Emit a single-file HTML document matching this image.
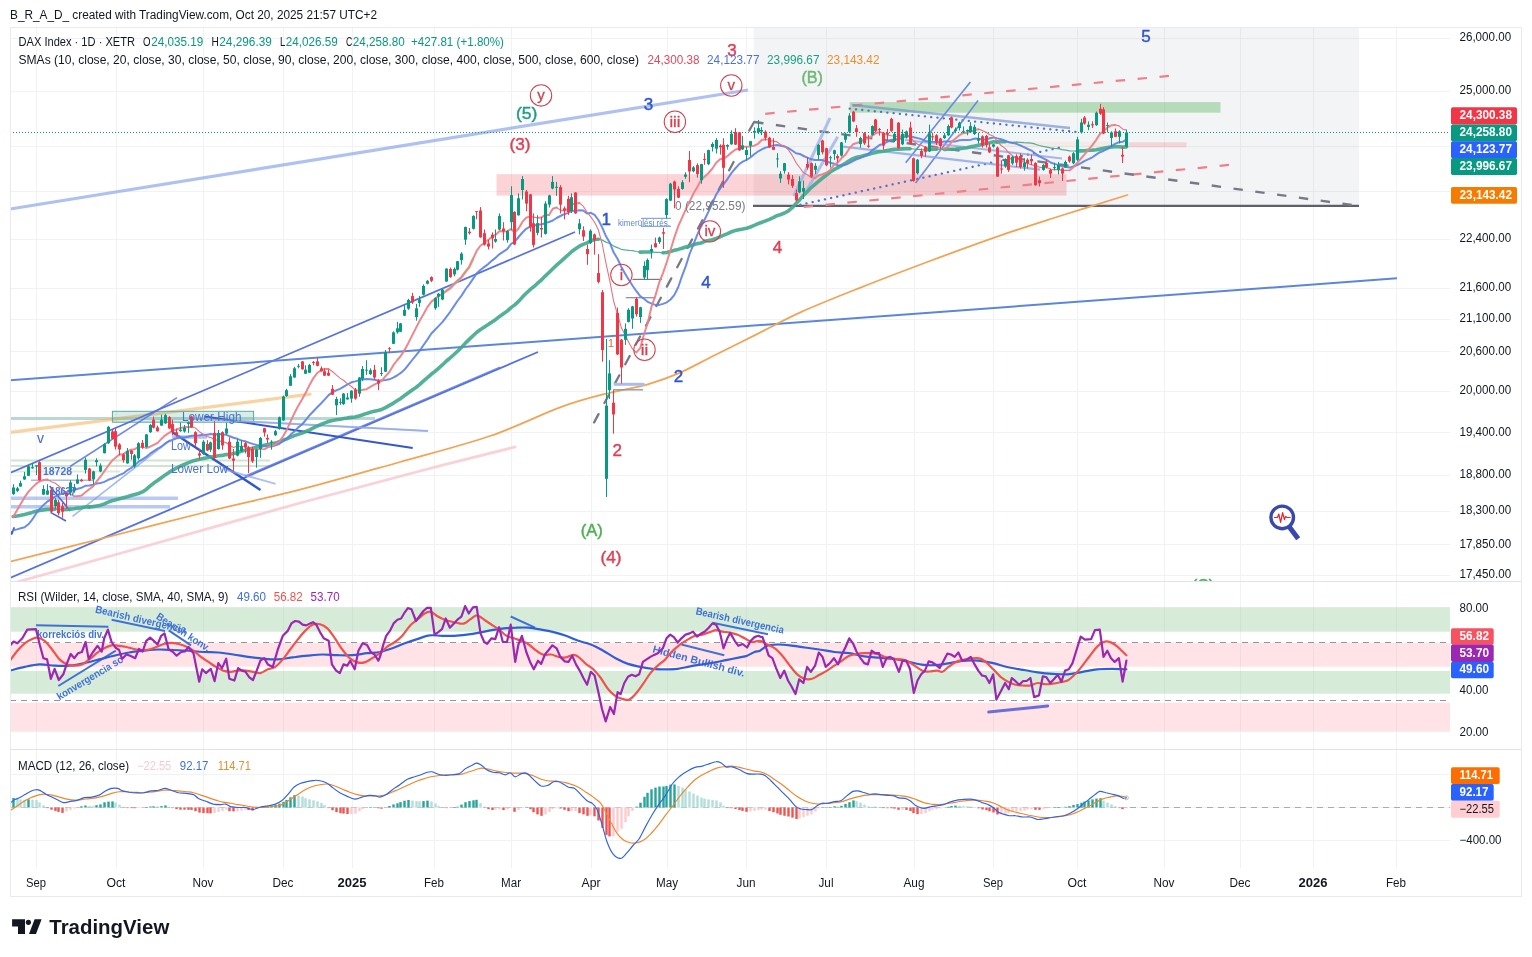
<!DOCTYPE html><html><head><meta charset="utf-8"><title>DAX Index chart</title><style>html,body{margin:0;padding:0;background:#fff;overflow:hidden}svg{display:block;will-change:transform;transform:translateZ(0)}</style></head><body><svg width="1532" height="957" viewBox="0 0 1532 957" font-family='"Liberation Sans", sans-serif' shape-rendering="auto">
<defs><clipPath id="cm"><rect x="10.5" y="27.5" width="1439.5" height="554"/></clipPath><clipPath id="cr"><rect x="10.5" y="582" width="1439.5" height="167"/></clipPath><clipPath id="cd"><rect x="10.5" y="750" width="1439.5" height="118"/></clipPath></defs>
<rect x="0" y="0" width="1532" height="957" fill="#ffffff"/>
<line x1="36.5" y1="27" x2="36.5" y2="868" stroke="#f1f2f5" stroke-width="1"/>
<line x1="116.5" y1="27" x2="116.5" y2="868" stroke="#f1f2f5" stroke-width="1"/>
<line x1="203.5" y1="27" x2="203.5" y2="868" stroke="#f1f2f5" stroke-width="1"/>
<line x1="283.5" y1="27" x2="283.5" y2="868" stroke="#f1f2f5" stroke-width="1"/>
<line x1="352.5" y1="27" x2="352.5" y2="868" stroke="#f1f2f5" stroke-width="1"/>
<line x1="434.5" y1="27" x2="434.5" y2="868" stroke="#f1f2f5" stroke-width="1"/>
<line x1="511.5" y1="27" x2="511.5" y2="868" stroke="#f1f2f5" stroke-width="1"/>
<line x1="591.5" y1="27" x2="591.5" y2="868" stroke="#f1f2f5" stroke-width="1"/>
<line x1="667.5" y1="27" x2="667.5" y2="868" stroke="#f1f2f5" stroke-width="1"/>
<line x1="746.5" y1="27" x2="746.5" y2="868" stroke="#f1f2f5" stroke-width="1"/>
<line x1="826.5" y1="27" x2="826.5" y2="868" stroke="#f1f2f5" stroke-width="1"/>
<line x1="914.5" y1="27" x2="914.5" y2="868" stroke="#f1f2f5" stroke-width="1"/>
<line x1="993.5" y1="27" x2="993.5" y2="868" stroke="#f1f2f5" stroke-width="1"/>
<line x1="1077.5" y1="27" x2="1077.5" y2="868" stroke="#f1f2f5" stroke-width="1"/>
<line x1="1164.5" y1="27" x2="1164.5" y2="868" stroke="#f1f2f5" stroke-width="1"/>
<line x1="1240.5" y1="27" x2="1240.5" y2="868" stroke="#f1f2f5" stroke-width="1"/>
<line x1="1313.5" y1="27" x2="1313.5" y2="868" stroke="#f1f2f5" stroke-width="1"/>
<line x1="1396.5" y1="27" x2="1396.5" y2="868" stroke="#f1f2f5" stroke-width="1"/>
<line x1="10" y1="38.5" x2="1450" y2="38.5" stroke="#f1f2f5" stroke-width="1"/>
<line x1="10" y1="91.5" x2="1450" y2="91.5" stroke="#f1f2f5" stroke-width="1"/>
<line x1="10" y1="146.5" x2="1450" y2="146.5" stroke="#f1f2f5" stroke-width="1"/>
<line x1="10" y1="191.5" x2="1450" y2="191.5" stroke="#f1f2f5" stroke-width="1"/>
<line x1="10" y1="239.5" x2="1450" y2="239.5" stroke="#f1f2f5" stroke-width="1"/>
<line x1="10" y1="288.5" x2="1450" y2="288.5" stroke="#f1f2f5" stroke-width="1"/>
<line x1="10" y1="319.5" x2="1450" y2="319.5" stroke="#f1f2f5" stroke-width="1"/>
<line x1="10" y1="351.5" x2="1450" y2="351.5" stroke="#f1f2f5" stroke-width="1"/>
<line x1="10" y1="391.5" x2="1450" y2="391.5" stroke="#f1f2f5" stroke-width="1"/>
<line x1="10" y1="432.5" x2="1450" y2="432.5" stroke="#f1f2f5" stroke-width="1"/>
<line x1="10" y1="475.5" x2="1450" y2="475.5" stroke="#f1f2f5" stroke-width="1"/>
<line x1="10" y1="511.5" x2="1450" y2="511.5" stroke="#f1f2f5" stroke-width="1"/>
<line x1="10" y1="544.5" x2="1450" y2="544.5" stroke="#f1f2f5" stroke-width="1"/>
<line x1="10" y1="575.5" x2="1450" y2="575.5" stroke="#f1f2f5" stroke-width="1"/>
<line x1="10" y1="607.5" x2="1450" y2="607.5" stroke="#f1f2f5" stroke-width="1"/>
<line x1="10" y1="648.5" x2="1450" y2="648.5" stroke="#f1f2f5" stroke-width="1"/>
<line x1="10" y1="689.5" x2="1450" y2="689.5" stroke="#f1f2f5" stroke-width="1"/>
<line x1="10" y1="731.5" x2="1450" y2="731.5" stroke="#f1f2f5" stroke-width="1"/>
<line x1="10" y1="774.5" x2="1450" y2="774.5" stroke="#f1f2f5" stroke-width="1"/>
<line x1="10" y1="807.5" x2="1450" y2="807.5" stroke="#f1f2f5" stroke-width="1"/>
<line x1="10" y1="840.5" x2="1450" y2="840.5" stroke="#f1f2f5" stroke-width="1"/>
<g clip-path="url(#cm)">
<rect x="753.6" y="27" width="605.4" height="179" fill="#787b86" fill-opacity="0.085"/>
<rect x="496.5" y="174.2" width="570" height="21.4" fill="#f23645" fill-opacity="0.22"/>
<rect x="849.7" y="102.1" width="370.8" height="10.6" fill="#4caf50" fill-opacity="0.36"/>
<rect x="1005" y="141.6" width="123.4" height="5.6" fill="#f2a05a" fill-opacity="0.1"/>
<rect x="1128.4" y="142.3" width="58.1" height="5" fill="#f23645" fill-opacity="0.16"/>
<line x1="753" y1="205.8" x2="1359" y2="205.8" stroke="#5d606b" stroke-width="2.2"/>
<line x1="10" y1="418.5" x2="375" y2="418.5" stroke="#7fb8ae" stroke-width="3.2" stroke-opacity="0.55"/>
<polyline points="10,432.3 310,394.2" fill="none" stroke="#f5b868" stroke-width="3.2" stroke-opacity="0.62" stroke-linejoin="round" stroke-linecap="round" />
<line x1="10" y1="460.5" x2="270" y2="460.5" stroke="#a8cfa8" stroke-width="2.2" stroke-opacity="0.55"/>
<line x1="10" y1="466" x2="270" y2="466" stroke="#a8cfa8" stroke-width="2.2" stroke-opacity="0.55"/>
<line x1="10" y1="471.5" x2="120" y2="471.5" stroke="#a8cfa8" stroke-width="2" stroke-opacity="0.4"/>
<line x1="10" y1="498.2" x2="178" y2="498.2" stroke="#7f9de6" stroke-width="3.6" stroke-opacity="0.55"/>
<line x1="10" y1="506.8" x2="170" y2="506.8" stroke="#7f9de6" stroke-width="3.6" stroke-opacity="0.55"/>
<line x1="31" y1="480.2" x2="94" y2="480.2" stroke="#9aa8d8" stroke-width="1.6" stroke-opacity="0.8"/>
<rect x="112.4" y="411.3" width="141.2" height="10.9" fill="#3a9e8f" fill-opacity="0.2" stroke="#5aa8a0" stroke-width="1"/>
<line x1="10" y1="473" x2="575" y2="232" stroke="#5672e0" stroke-width="1.7"/>
<line x1="10" y1="578" x2="538" y2="352" stroke="#5672e0" stroke-width="1.9"/>
<line x1="244.7" y1="476.2" x2="500" y2="367" stroke="#5672e0" stroke-width="1.3" stroke-opacity="0.8"/>
<line x1="10" y1="380.3" x2="1397" y2="278.3" stroke="#5b86dc" stroke-width="2"/>
<line x1="10" y1="209" x2="748" y2="90" stroke="#7d9be8" stroke-width="3.2" stroke-opacity="0.62"/>
<line x1="70" y1="466.5" x2="177" y2="397.6" stroke="#5672e0" stroke-width="1.5" stroke-opacity="0.85"/>
<line x1="72.5" y1="516.4" x2="170.4" y2="440" stroke="#7f9de6" stroke-width="1.6" stroke-opacity="0.7"/>
<line x1="49.7" y1="486" x2="70.2" y2="511" stroke="#4a66d8" stroke-width="1.6"/>
<line x1="50.5" y1="512.4" x2="66" y2="521" stroke="#4a66d8" stroke-width="1.6"/>
<polyline points="9.8,529.5 11.8,534 14,528" fill="none" stroke="#3f5fd0" stroke-width="1.8" stroke-linejoin="round" stroke-linecap="round" />
<line x1="205" y1="416.6" x2="412.7" y2="448" stroke="#3558c8" stroke-width="2"/>
<line x1="172" y1="432" x2="260.5" y2="490" stroke="#3558c8" stroke-width="2.4"/>
<line x1="190" y1="418.5" x2="428" y2="431" stroke="#8ea6ea" stroke-width="2" stroke-opacity="0.75"/>
<line x1="236" y1="421" x2="428" y2="431" stroke="#8ea6ea" stroke-width="1.6" stroke-opacity="0.6"/>
<line x1="223" y1="469" x2="275.6" y2="483.9" stroke="#8ea6ea" stroke-width="2" stroke-opacity="0.7"/>
<line x1="172" y1="437" x2="207" y2="437" stroke="#7f9de6" stroke-width="3.4" stroke-opacity="0.6"/>
<path d="M10,584C33.3,577.5 101.7,558.5 150,545C198.3,531.5 255,515.3 300,503C345,490.7 384.2,480.3 420,471C455.8,461.7 499.2,451 515,447" fill="none" stroke="#f7c1ca" stroke-width="2.8" stroke-opacity="0.75" stroke-linejoin="round" stroke-linecap="round" />
<path d="M10,561.7C25,557.9 66.3,547.5 100,539C133.7,530.5 178.7,518.7 212,510.5C245.3,502.3 268.7,497.8 300,489.7C331.3,481.6 368.3,470.9 400,462C431.7,453.1 463.3,445.1 490,436C516.7,426.9 541,414.4 560,407.4C579,400.4 589.4,398 604,394.2C618.6,390.4 635.4,387.8 647.8,384.3C660.2,380.8 667.5,378.1 678.5,373.4C689.5,368.6 700.4,362.4 713.6,355.8C726.8,349.2 742.9,341.2 757.5,333.9C772.1,326.6 784.3,319.6 801.4,311.9C818.5,304.2 838.6,296.3 860,287.8C881.4,279.3 906.7,269.7 930,261C953.3,252.3 978.3,243.1 1000,235.6C1021.7,228.1 1038.8,222.8 1060,216C1081.2,209.2 1116.1,198.5 1127.3,195" fill="none" stroke="#f2a455" stroke-width="1.8" stroke-linejoin="round" stroke-linecap="round" />
<polyline points="594.1,422.4 736,157.5" fill="none" stroke="#777a85" stroke-width="2.3" stroke-dasharray="9.4,12.6" stroke-linejoin="round" stroke-linecap="round" />
<line x1="632.4" y1="279.4" x2="662" y2="279.4" stroke="#787b86" stroke-width="1.2"/>
<line x1="625.8" y1="297.7" x2="655.5" y2="297.7" stroke="#8089b0" stroke-width="1.2"/>
<line x1="613.8" y1="384.3" x2="644.5" y2="384.3" stroke="#a9bdee" stroke-width="3"/>
<line x1="613" y1="389.8" x2="643" y2="389.8" stroke="#9598a1" stroke-width="1.4"/>
<line x1="641" y1="218.3" x2="671" y2="218.3" stroke="#6f93e0" stroke-width="1"/>
<line x1="641" y1="226.3" x2="671" y2="226.3" stroke="#6f93e0" stroke-width="1"/>
<line x1="765.2" y1="113.8" x2="1170.4" y2="75.8" stroke="#f07f8a" stroke-width="2.2" stroke-dasharray="9.5,12.5"/>
<line x1="803.6" y1="207" x2="1229.5" y2="164.9" stroke="#f07f8a" stroke-width="2.2" stroke-dasharray="9.5,12.5"/>
<line x1="749.2" y1="130.6" x2="754.1" y2="122" stroke="#777a85" stroke-width="2.2" stroke-linecap="round"/>
<line x1="754.1" y1="122" x2="1359" y2="206" stroke="#777a85" stroke-width="2.4" stroke-dasharray="9.4,12.6"/>
<line x1="800.3" y1="204.8" x2="1063.6" y2="146.7" stroke="#5570c8" stroke-width="2.3" stroke-dasharray="0.1,6.2" stroke-linecap="round"/>
<line x1="849.7" y1="108.7" x2="1076.8" y2="132" stroke="#5570c8" stroke-width="2.3" stroke-dasharray="0.1,6.2" stroke-linecap="round"/>
<line x1="852" y1="105" x2="1070" y2="128" stroke="#6f8fd0" stroke-width="2.4" stroke-opacity="0.65"/>
<line x1="905.7" y1="162.7" x2="970.4" y2="82" stroke="#6a8ae0" stroke-width="1.6"/>
<line x1="915.6" y1="182.9" x2="978" y2="100.6" stroke="#6a8ae0" stroke-width="1.6"/>
<line x1="793.8" y1="196" x2="830" y2="118" stroke="#9db2ec" stroke-width="3" stroke-opacity="0.8"/>
<line x1="805.8" y1="191.7" x2="837.7" y2="136.8" stroke="#9db2ec" stroke-width="3" stroke-opacity="0.8"/>
<line x1="843" y1="146.7" x2="1040" y2="169.7" stroke="#8aa2ea" stroke-width="2.3" stroke-opacity="0.8"/>
<line x1="905" y1="140" x2="1062" y2="158.5" stroke="#8aa2ea" stroke-width="2.0" stroke-opacity="0.75"/>
<line x1="10" y1="132.5" x2="1450" y2="132.5" stroke="#089981" stroke-width="1" stroke-dasharray="1,2"/>
<polyline points="13.2,516.5 17,516 20.8,515.3 24.6,514.4 28.4,513.4 32.2,512.4 36,511.2 39.8,510.4 43.6,509.9 47.4,509.4 51.2,509.4 55,509.2" fill="none" stroke="#3fa98c" stroke-width="3.6" stroke-opacity="0.9" stroke-linejoin="round" stroke-linecap="round" />
<polyline points="55,509.2 58.8,509.3 62.6,509.6" fill="none" stroke="#3fa98c" stroke-width="1.2" stroke-opacity="0.9" stroke-linejoin="round" stroke-linecap="round" />
<polyline points="62.6,509.6 66.4,509.4 70.2,509.1 74,508.8 77.8,508.1 81.6,507.7 85.4,507 89.2,507" fill="none" stroke="#3fa98c" stroke-width="3.6" stroke-opacity="0.9" stroke-linejoin="round" stroke-linecap="round" />
<polyline points="89.2,507 93,506.6 96.8,505.9 100.6,505.2 104.4,503.9 108.2,502.1 112,500.8 115.8,499.8 119.6,498.7 123.4,497.7 127.2,496.7 131,495.5 134.8,494.6 138.6,493.5 142.4,491.9 146.2,489.4 150,486.2 153.8,483.1 157.6,480.5 161.4,477.7 165.2,474.9 169,472.4 172.8,470.1 176.6,468 180.4,466.1 184.2,464.5 188,462.9 191.8,461.3 195.6,460.2 199.4,459.3 203.2,458.4 207,457.7 210.8,456.8 214.6,456.5 218.4,455.8 222.2,455.4 226,454.6 229.8,454.2 233.6,453.6 237.4,452.7 241.2,451.3 245,450.3 248.8,449.2 252.6,448.2 256.4,447.2 260.2,446.4 264,445.3 267.8,444.5 271.6,443.7 275.4,443.1 279.2,441.8 283,440.3 286.8,438.9 290.6,437.1 294.4,435.6 298.2,434.4 302,433 305.8,431.5 309.6,429.8 313.4,427.8 317.2,426.1 321,424.5 324.8,422.9 328.6,421.5 332.4,420.5 336.2,419.8 340,419.3 343.8,418.6 347.6,417.9 351.4,417.4 355.2,417 359,416 362.8,414.8 366.6,413.4 370.4,412.3 374.2,411.3 378,410.5 381.8,409.4 385.6,407.6 389.4,405.4 393.2,403.3 397,400.8 400.8,398.4 404.6,395.5 408.4,392.8 412.2,390 416,387.5 419.8,384.4 423.6,380.9 427.4,377.7 431.2,374.3 435,371.4 438.8,368.1 442.6,364.7 446.4,361 450.2,357.8 454,354.5 457.8,351 461.6,347.2 465.4,343.1 469.2,339.4 473,335.8 476.8,332.3 480.6,329.5 484.4,327 488.2,324.6 492,322 495.8,319.4 499.6,316.4 503.4,313.8 507.2,311.1 511,307.6 514.8,304.9 518.6,301.4 522.4,297.1 526.2,293.2 530,289.7 533.8,286.7 537.6,283.2 541.4,280 545.2,276.1 549,272.5 552.8,268.7 556.6,265.1 560.4,261.8 564.2,258.4 568,255 571.8,251.5 575.6,248.7 579.4,246.2 583.2,244.3 587,242.8 590.8,240.9 594.6,239.5 598.4,239.2" fill="none" stroke="#3fa98c" stroke-width="3.6" stroke-opacity="0.9" stroke-linejoin="round" stroke-linecap="round" />
<polyline points="598.4,239.2 602.2,240.1 606,242.1 609.8,243.5 613.6,246.1 617.4,247.6 621.2,249.3 625,249.9 628.8,250.3 632.6,250.6 636.4,251.5 640.2,252.1" fill="none" stroke="#3fa98c" stroke-width="1.2" stroke-opacity="0.9" stroke-linejoin="round" stroke-linecap="round" />
<polyline points="640.2,252.1 644,252 647.8,252 651.6,251.9" fill="none" stroke="#3fa98c" stroke-width="3.6" stroke-opacity="0.9" stroke-linejoin="round" stroke-linecap="round" />
<polyline points="651.6,251.9 655.4,252.3 659.2,252.4 663,252.8" fill="none" stroke="#3fa98c" stroke-width="1.2" stroke-opacity="0.9" stroke-linejoin="round" stroke-linecap="round" />
<polyline points="663,252.8 666.8,252.5 670.6,251.4 674.4,250.3 678.2,249.4 682,248.2 685.8,247 689.6,246.1 693.4,244.8 697.2,243.6 701,243 704.8,241.3 708.6,240.4 712.4,239.7 716.2,238.4 720,236.8 723.8,235.2 727.6,233.7 731.4,231.8 735.2,230.6 739,229.7 742.8,229 746.6,228.2 750.4,227 754.2,225.4 758,223.7 761.8,222.3 765.6,220.8 769.4,219.3 773.2,217.6 777,215.7 780.8,214.5 784.6,213 788.4,210.9 792.2,207.7 796,203.6 799.8,199.7 803.6,195.2 807.4,191.4 811.2,187.6 815,184.4 818.8,181.1 822.6,178 826.4,175 830.2,172 834,169.7 837.8,167.7 841.6,165.5 845.4,163.3 849.2,160.8 853,158.6 856.8,157.3 860.6,156.4 864.4,155.4 868.2,154.4 872,153.3 875.8,152.4 879.6,151.6 883.4,151.2 887.2,150.4 891,149.7 894.8,149.2 898.6,149.1 902.4,148.9 906.2,148.8 910,148.7" fill="none" stroke="#3fa98c" stroke-width="3.6" stroke-opacity="0.9" stroke-linejoin="round" stroke-linecap="round" />
<polyline points="910,148.7 913.8,149 917.6,149.3 921.4,149.7 925.2,149.8" fill="none" stroke="#3fa98c" stroke-width="1.2" stroke-opacity="0.9" stroke-linejoin="round" stroke-linecap="round" />
<polyline points="925.2,149.8 929,149.5 932.8,149.3 936.6,149.2" fill="none" stroke="#3fa98c" stroke-width="3.6" stroke-opacity="0.9" stroke-linejoin="round" stroke-linecap="round" />
<polyline points="936.6,149.2 940.4,149.3 944.2,149.4" fill="none" stroke="#3fa98c" stroke-width="1.2" stroke-opacity="0.9" stroke-linejoin="round" stroke-linecap="round" />
<polyline points="944.2,149.4 948,149.3 951.8,149.3 955.6,149.1 959.4,148.6 963.2,148.2 967,147.7 970.8,146.7 974.6,146 978.4,145.2 982.2,144.4 986,143.3 989.8,142.7 993.6,141.8 997.4,142" fill="none" stroke="#3fa98c" stroke-width="3.6" stroke-opacity="0.9" stroke-linejoin="round" stroke-linecap="round" />
<polyline points="997.4,142 1001.2,141.8 1005,141.7" fill="none" stroke="#3fa98c" stroke-width="3.6" stroke-opacity="0.9" stroke-linejoin="round" stroke-linecap="round" />
<polyline points="1005,141.7 1008.8,142.2 1012.6,142.3 1016.4,142.2" fill="none" stroke="#3fa98c" stroke-width="1.2" stroke-opacity="0.9" stroke-linejoin="round" stroke-linecap="round" />
<polyline points="1016.4,142.2 1020.2,142.4 1024,142.7 1027.8,142.8 1031.6,143.2 1035.4,144.2 1039.2,145.5 1043,146.4 1046.8,147.1 1050.6,147.8 1054.4,148.3 1058.2,148.7 1062,149.6 1065.8,150.2 1069.6,150.9 1073.4,151 1077.2,151.1" fill="none" stroke="#3fa98c" stroke-width="1.2" stroke-opacity="0.9" stroke-linejoin="round" stroke-linecap="round" />
<polyline points="1077.2,151.1 1081,150.9 1084.8,150.7 1088.6,150.3 1092.4,150.1 1096.2,149.7 1100,149.1 1103.8,148.2 1107.6,147.5 1111.4,147 1115.2,146.7 1119,146.7 1122.8,147.1 1126.6,146.9" fill="none" stroke="#3fa98c" stroke-width="3.6" stroke-opacity="0.9" stroke-linejoin="round" stroke-linecap="round" />
<polyline points="13.2,530.4 17,529.4 20.8,528.3 24.6,527.3 28.4,524.3 32.2,519.7 36,513.7 39.8,508.6 43.6,504.9 47.4,501.5 51.2,499.4 55,496.6 58.8,494.9 62.6,493.4 66.4,492.2 70.2,490.8 74,490.1 77.8,488.7 81.6,487.7 85.4,485.8 89.2,485.5 93,484.7 96.8,483.5 100.6,483 104.4,481.9 108.2,479.8 112,478.5 115.8,476.8 119.6,474.9 123.4,473.4 127.2,470.3 131,468 134.8,465.1 138.6,461.7 142.4,459.3 146.2,456.9 150,453.7 153.8,451.1 157.6,448.6 161.4,446.6 165.2,443.4 169,441.2 172.8,439.8 176.6,438.3 180.4,437.6 184.2,437.6 188,436.8 191.8,435.8 195.6,435.5 199.4,435.3 203.2,434.8 207,434.7 210.8,434 214.6,434.7 218.4,434 222.2,434.6 226,434.7 229.8,436.3 233.6,437.7 237.4,438.8 241.2,440.4 245,441.3 248.8,442.6 252.6,443.9 256.4,444.9 260.2,445.4 264,445.9 267.8,446.5 271.6,446.5 275.4,445.2 279.2,444 283,441.3 286.8,438.7 290.6,434.6 294.4,431.4 298.2,427.4 302,424.5 305.8,420 309.6,415.2 313.4,411.3 317.2,407.3 321,403.5 324.8,399.4 328.6,395.1 332.4,392.3 336.2,390.4 340,388.9 343.8,386.6 347.6,384.4 351.4,382.3 355.2,381.4 359,380.4 362.8,379.4 366.6,379.1 370.4,379.2 374.2,379.7 378,380.5 381.8,380.6 385.6,380 389.4,379.3 393.2,377.6 397,375.5 400.8,372.9 404.6,369.6 408.4,364.8 412.2,360 416,355.3 419.8,350.6 423.6,345 427.4,339.6 431.2,333.7 435,329.7 438.8,325.9 442.6,321.9 446.4,316.8 450.2,311.8 454,306.1 457.8,300.5 461.6,295.6 465.4,289.5 469.2,284.5 473,278.9 476.8,273.3 480.6,269.7 484.4,266.9 488.2,264.1 492,260.6 495.8,257.6 499.6,254.1 503.4,251.6 507.2,249.1 511,244 514.8,241.5 518.6,237 522.4,232.5 526.2,228.8 530,226.7 533.8,225.9 537.6,224.4 541.4,224.5 545.2,223.1 549,222 552.8,220.5 556.6,218 560.4,216 564.2,214.2 568,212.9 571.8,210.8 575.6,210.7 579.4,210.3 583.2,210.5 587,213.5 590.8,212.8 594.6,214.9 598.4,220 602.2,227.4 606,236.3 609.8,242.7 613.6,252.3 617.4,258.5 621.2,266.7 625,273.4 628.8,279.8 632.6,285.7 636.4,291.2 640.2,296.1 644,298.8 647.8,301.9 651.6,303.7 655.4,304.9 659.2,304.9 663,303.9 666.8,302.3 670.6,299.5 674.4,294.9 678.2,287.2 682,276.1 685.8,266.1 689.6,254 693.4,244.6 697.2,234.9 701,226.7 704.8,219.2 708.6,211.4 712.4,202.9 716.2,194.5 720,188.6 723.8,184 727.6,178.8 731.4,173.1 735.2,168.5 739,164.3 742.8,161.6 746.6,159.9 750.4,157.5 754.2,154.2 758,151.5 761.8,149.3 765.6,147.6 769.4,146.6 773.2,145.4 777,145.1 780.8,145.8 784.6,146.5 788.4,148.2 792.2,150.5 796,153.2 799.8,153.9 803.6,156 807.4,157.7 811.2,159.3 815,160.1 818.8,160 822.6,160.1 826.4,161.4 830.2,162.7 834,163.8 837.8,165.2 841.6,165.4 845.4,164.8 849.2,163.1 853,161.2 856.8,159.2 860.6,157.9 864.4,156.1 868.2,154.1 872,150.4 875.8,147.9 879.6,145 883.4,143.9 887.2,141.8 891,140 894.8,139.5 898.6,139.3 902.4,137.7 906.2,136.4 910,136.1 913.8,137.2 917.6,138.1 921.4,139.1 925.2,140.9 929,141.5 932.8,141.8 936.6,142 940.4,142.2 944.2,141.6 948,141.6 951.8,141.4 955.6,141.4 959.4,140.2 963.2,140.1 967,140 970.8,139.7 974.6,138.6 978.4,138.8 982.2,139.5 986,139.6 989.8,138.2 993.6,137.4 997.4,138.4 1001.2,139.3 1005,140.6 1008.8,142.2 1012.6,142.9 1016.4,143.8 1020.2,145.4 1024,147.2 1027.8,149 1031.6,150.6 1035.4,153.7 1039.2,156.3 1043,158.1 1046.8,160.1 1050.6,162.5 1054.4,163.9 1058.2,164.9 1062,166.3 1065.8,166.8 1069.6,167.6 1073.4,166.5 1077.2,165 1081,163.1 1084.8,160.8 1088.6,159.2 1092.4,157.3 1096.2,154.6 1100,152.2 1103.8,150.7 1107.6,148.9 1111.4,146.2 1115.2,143.9 1119,142.2 1122.8,141.7 1126.6,139.6" fill="none" stroke="#5b7fe6" stroke-width="2.0" stroke-opacity="0.9" stroke-linejoin="round" stroke-linecap="round" />
<polyline points="442.6,293.9 446.4,290.8 450.2,288.2 454,284.3 457.8,280.5 461.6,277.2 465.4,271.9 469.2,267.1 473,258.9" fill="none" stroke="#b5d99c" stroke-width="3" stroke-opacity="0.75" stroke-linejoin="round" stroke-linecap="round" />
<polyline points="13.2,516.9 17,510.3 20.8,503.8 24.6,497.2 28.4,491.9 32.2,487.6 36,483.9 39.8,481.2 43.6,480 47.4,479.4" fill="none" stroke="#ee7f86" stroke-width="2.0" stroke-opacity="0.95" stroke-linejoin="round" stroke-linecap="round" />
<polyline points="47.4,479.4 51.2,481.8 55,483 58.8,486 62.6,489.5 66.4,492.5 70.2,494 74,496.2" fill="none" stroke="#e5757e" stroke-width="1.1" stroke-opacity="1" stroke-linejoin="round" stroke-linecap="round" />
<polyline points="74,496.2 77.8,496.2 81.6,495.4 85.4,492.3 89.2,489.2 93,486.4 96.8,481.1 100.6,476.5 104.4,471.2 108.2,465.7 112,460.8 115.8,457.5 119.6,454.3 123.4,454.4" fill="none" stroke="#ee7f86" stroke-width="2.0" stroke-opacity="0.95" stroke-linejoin="round" stroke-linecap="round" />
<polyline points="123.4,454.4 127.2,451.4 131,449.7 134.8,449.2 138.6,446.9" fill="none" stroke="#ee7f86" stroke-width="2.0" stroke-opacity="0.95" stroke-linejoin="round" stroke-linecap="round" />
<polyline points="138.6,446.9 142.4,447.3 146.2,448" fill="none" stroke="#e5757e" stroke-width="1.1" stroke-opacity="1" stroke-linejoin="round" stroke-linecap="round" />
<polyline points="146.2,448 150,446.7 153.8,444.8 157.6,442.9 161.4,438.9 165.2,435.3 169,432.8 172.8,430.5 176.6,429.6 180.4,427.9 184.2,427.2 188,426.9 191.8,426.9" fill="none" stroke="#ee7f86" stroke-width="2.0" stroke-opacity="0.95" stroke-linejoin="round" stroke-linecap="round" />
<polyline points="191.8,426.9 195.6,428.1 199.4,431.7 203.2,434.3 207,436.5 210.8,437.6 214.6,439.8 218.4,440.2 222.2,441.9 226,442.5 229.8,445.6 233.6,447.4 237.4,446 241.2,446.4 245,446.2" fill="none" stroke="#e5757e" stroke-width="1.1" stroke-opacity="1" stroke-linejoin="round" stroke-linecap="round" />
<polyline points="245,446.2 248.8,447.6 252.6,448 256.4,449.7 260.2,448.9 264,449.3" fill="none" stroke="#e5757e" stroke-width="1.1" stroke-opacity="1" stroke-linejoin="round" stroke-linecap="round" />
<polyline points="264,449.3 267.8,447.4 271.6,445.5 275.4,444.5 279.2,441.6 283,436.5 286.8,429.8 290.6,421.3 294.4,413.2 298.2,405.9 302,399.6 305.8,392.6 309.6,384.9 313.4,378.1 317.2,373 321,370.4 324.8,369 328.6,368.9" fill="none" stroke="#ee7f86" stroke-width="2.0" stroke-opacity="0.95" stroke-linejoin="round" stroke-linecap="round" />
<polyline points="328.6,368.9 332.4,371.5 336.2,374.9 340,378.1 343.8,380.5 347.6,383.8 351.4,386.5 355.2,389.8 359,390.5" fill="none" stroke="#e5757e" stroke-width="1.1" stroke-opacity="1" stroke-linejoin="round" stroke-linecap="round" />
<polyline points="359,390.5 362.8,389.8 366.6,389.2 370.4,386.8 374.2,384.6 378,382.8 381.8,380.7 385.6,376.2 389.4,372 393.2,365.4 397,360.5 400.8,355.9 404.6,349.9 408.4,342.9 412.2,335.4 416,327.9 419.8,320.5 423.6,313.9 427.4,307.1 431.2,301.9 435,298.9 438.8,295.9 442.6,293.9 446.4,290.8 450.2,288.2 454,284.3 457.8,280.5 461.6,277.2 465.4,271.9 469.2,267.1 473,258.9 476.8,250.7 480.6,245.5 484.4,243.1 488.2,240 492,237 495.8,234.7 499.6,231 503.4,231.4" fill="none" stroke="#ee7f86" stroke-width="2.0" stroke-opacity="0.95" stroke-linejoin="round" stroke-linecap="round" />
<polyline points="503.4,231.4 507.2,231.2 511,229.1 514.8,232.4" fill="none" stroke="#ee7f86" stroke-width="2.0" stroke-opacity="0.95" stroke-linejoin="round" stroke-linecap="round" />
<polyline points="514.8,232.4 518.6,228.5 522.4,221.9 526.2,217.6 530,216.5" fill="none" stroke="#ee7f86" stroke-width="2.0" stroke-opacity="0.95" stroke-linejoin="round" stroke-linecap="round" />
<polyline points="530,216.5 533.8,217.1 537.6,217.8" fill="none" stroke="#e5757e" stroke-width="1.1" stroke-opacity="1" stroke-linejoin="round" stroke-linecap="round" />
<polyline points="537.6,217.8 541.4,217.6 545.2,214.9 549,214.9" fill="none" stroke="#ee7f86" stroke-width="2.0" stroke-opacity="0.95" stroke-linejoin="round" stroke-linecap="round" />
<polyline points="549,214.9 552.8,208.7 556.6,207.5" fill="none" stroke="#ee7f86" stroke-width="2.0" stroke-opacity="0.95" stroke-linejoin="round" stroke-linecap="round" />
<polyline points="556.6,207.5 560.4,210.1 564.2,210.8" fill="none" stroke="#e5757e" stroke-width="1.1" stroke-opacity="1" stroke-linejoin="round" stroke-linecap="round" />
<polyline points="564.2,210.8 568,209.2 571.8,204.5 575.6,203.5 579.4,202.9" fill="none" stroke="#ee7f86" stroke-width="2.0" stroke-opacity="0.95" stroke-linejoin="round" stroke-linecap="round" />
<polyline points="579.4,202.9 583.2,206.2 587,212.1 590.8,216.9 594.6,222.3 598.4,230 602.2,244 606,263.3 609.8,280.9 613.6,301 617.4,314.1 621.2,327.2 625,334.7 628.8,342.6 632.6,349.2 636.4,352.4" fill="none" stroke="#e5757e" stroke-width="1.1" stroke-opacity="1" stroke-linejoin="round" stroke-linecap="round" />
<polyline points="636.4,352.4 640.2,348.2 644,334.2 647.8,322.8 651.6,306.3 655.4,295.6 659.2,282.6 663,273.1 666.8,262 670.6,249.8 674.4,237.3 678.2,226.3 682,217.9 685.8,209.4 689.6,201.6 693.4,193.7 697.2,187.3 701,180.3 704.8,176.4 708.6,173 712.4,168.5 716.2,162.7 720,159.3 723.8,158.6 727.6,156 731.4,152.6 735.2,149.7 739,148.3 742.8,146.8 746.6,146.8 750.4,146.6 754.2,145.7 758,143.8 761.8,140 765.6,139.3" fill="none" stroke="#ee7f86" stroke-width="2.0" stroke-opacity="0.95" stroke-linejoin="round" stroke-linecap="round" />
<polyline points="765.6,139.3 769.4,140.6 773.2,141.1 777,141.9 780.8,144.8 784.6,146.1 788.4,149.9 792.2,155.4 796,162.6 799.8,167.8 803.6,172.8 807.4,174.8 811.2,177.5 815,178.2" fill="none" stroke="#e5757e" stroke-width="1.1" stroke-opacity="1" stroke-linejoin="round" stroke-linecap="round" />
<polyline points="815,178.2 818.8,175.3 822.6,174.2 826.4,172.8 830.2,170 834,164.9 837.8,162.6 841.6,158.1 845.4,154.8 849.2,148.7 853,144.3 856.8,143 860.6,141.6 864.4,139.4 868.2,138.3 872,135.9 875.8,133.2 879.6,131.9" fill="none" stroke="#ee7f86" stroke-width="2.0" stroke-opacity="0.95" stroke-linejoin="round" stroke-linecap="round" />
<polyline points="879.6,131.9 883.4,133 887.2,134.9 891,135.8 894.8,136 898.6,137" fill="none" stroke="#e5757e" stroke-width="1.1" stroke-opacity="1" stroke-linejoin="round" stroke-linecap="round" />
<polyline points="898.6,137 902.4,136 906.2,134.5" fill="none" stroke="#ee7f86" stroke-width="2.0" stroke-opacity="0.95" stroke-linejoin="round" stroke-linecap="round" />
<polyline points="906.2,134.5 910,136.3 913.8,141.2 917.6,144.2 921.4,145.3 925.2,147 929,147.2 932.8,147.6 936.6,147.1" fill="none" stroke="#e5757e" stroke-width="1.1" stroke-opacity="1" stroke-linejoin="round" stroke-linecap="round" />
<polyline points="936.6,147.1 940.4,148.3 944.2,148.7" fill="none" stroke="#e5757e" stroke-width="1.1" stroke-opacity="1" stroke-linejoin="round" stroke-linecap="round" />
<polyline points="944.2,148.7 948,146.9 951.8,141.6 955.6,138.5 959.4,135.2 963.2,133.2 967,132.8 970.8,131.7 974.6,130.1 978.4,129.3" fill="none" stroke="#ee7f86" stroke-width="2.0" stroke-opacity="0.95" stroke-linejoin="round" stroke-linecap="round" />
<polyline points="978.4,129.3 982.2,130.4 986,132.3 989.8,134.8 993.6,136.3 997.4,141.6 1001.2,145.5 1005,148.4 1008.8,152.8 1012.6,155.8 1016.4,158.2 1020.2,160.4 1024,162.1 1027.8,163.2 1031.6,164.9 1035.4,165.8 1039.2,167.1 1043,167.7 1046.8,167.5" fill="none" stroke="#e5757e" stroke-width="1.1" stroke-opacity="1" stroke-linejoin="round" stroke-linecap="round" />
<polyline points="1046.8,167.5 1050.6,169.2 1054.4,169.6 1058.2,169.4 1062,170.5 1065.8,170.3 1069.6,170.4" fill="none" stroke="#e5757e" stroke-width="1.1" stroke-opacity="1" stroke-linejoin="round" stroke-linecap="round" />
<polyline points="1069.6,170.4 1073.4,167.2 1077.2,162.8 1081,158.5 1084.8,154.1 1088.6,149.3 1092.4,145.1 1096.2,139.9 1100,133.9 1103.8,131 1107.6,127.4 1111.4,125.3 1115.2,125" fill="none" stroke="#ee7f86" stroke-width="2.0" stroke-opacity="0.95" stroke-linejoin="round" stroke-linecap="round" />
<polyline points="1115.2,125 1119,125.9 1122.8,129.2 1126.6,130" fill="none" stroke="#e5757e" stroke-width="1.1" stroke-opacity="1" stroke-linejoin="round" stroke-linecap="round" />
<path d="M13.5,484.2V494.9" stroke="#089981" stroke-width="1"/>
<rect x="12" y="487.5" width="3" height="6.6" fill="#089981"/>
<path d="M17.5,486.8V491.9" stroke="#089981" stroke-width="1"/>
<rect x="16" y="488.3" width="3" height="2.6" fill="#089981"/>
<path d="M20.5,480.7V486.8" stroke="#089981" stroke-width="1"/>
<rect x="19" y="483.1" width="3" height="3.4" fill="#089981"/>
<path d="M24.5,471.9V479.8" stroke="#089981" stroke-width="1"/>
<rect x="23" y="476.3" width="3" height="3.2" fill="#089981"/>
<path d="M28.5,464.9V475.8" stroke="#089981" stroke-width="1"/>
<rect x="27" y="466.3" width="3" height="9.5" fill="#089981"/>
<path d="M32.5,463.4V468.7" stroke="#089981" stroke-width="1"/>
<rect x="31" y="467.2" width="3" height="1.2" fill="#089981"/>
<path d="M36.5,465.3V475.1" stroke="#089981" stroke-width="1"/>
<rect x="35" y="465.3" width="3" height="1.3" fill="#089981"/>
<path d="M39.5,461.2V480.7" stroke="#f23645" stroke-width="1"/>
<rect x="38" y="462.2" width="3" height="18" fill="#f23645"/>
<path d="M43.5,485.3V494.9" stroke="#089981" stroke-width="1"/>
<rect x="42" y="489" width="3" height="5.6" fill="#089981"/>
<path d="M47.5,484.2V494.9" stroke="#089981" stroke-width="1"/>
<rect x="46" y="490.5" width="3" height="4.1" fill="#089981"/>
<path d="M51.5,489V512.4" stroke="#f23645" stroke-width="1"/>
<rect x="50" y="489.7" width="3" height="21.9" fill="#f23645"/>
<path d="M55.5,498.2V508.7" stroke="#089981" stroke-width="1"/>
<rect x="54" y="500" width="3" height="6.1" fill="#089981"/>
<path d="M58.5,500V515.3" stroke="#f23645" stroke-width="1"/>
<rect x="57" y="502.2" width="3" height="11" fill="#f23645"/>
<path d="M62.5,502.9V517.8" stroke="#f23645" stroke-width="1"/>
<rect x="61" y="506.3" width="3" height="5.4" fill="#f23645"/>
<path d="M66.5,492.7V508.7" stroke="#f23645" stroke-width="1"/>
<rect x="65" y="492.9" width="3" height="3.4" fill="#f23645"/>
<path d="M70.5,480.2V495.6" stroke="#089981" stroke-width="1"/>
<rect x="69" y="482.4" width="3" height="10.2" fill="#089981"/>
<path d="M74.5,483.9V492.7" stroke="#089981" stroke-width="1"/>
<rect x="73" y="487.5" width="3" height="2.9" fill="#089981"/>
<path d="M77.5,474.4V483.9" stroke="#089981" stroke-width="1"/>
<rect x="76" y="479.5" width="3" height="4.1" fill="#089981"/>
<path d="M81.5,478.8V481.7" stroke="#f23645" stroke-width="1"/>
<rect x="80" y="479.8" width="3" height="1.5" fill="#f23645"/>
<path d="M85.5,457.5V473.6" stroke="#089981" stroke-width="1"/>
<rect x="84" y="459.7" width="3" height="10.2" fill="#089981"/>
<path d="M89.5,467.8V481" stroke="#f23645" stroke-width="1"/>
<rect x="88" y="468.5" width="3" height="12.1" fill="#f23645"/>
<path d="M93.5,470.7V484.6" stroke="#089981" stroke-width="1"/>
<rect x="92" y="471.4" width="3" height="8" fill="#089981"/>
<path d="M96.5,458.3V466.3" stroke="#089981" stroke-width="1"/>
<rect x="95" y="460.2" width="3" height="2" fill="#089981"/>
<path d="M100.5,463.4V472.2" stroke="#089981" stroke-width="1"/>
<rect x="99" y="465.6" width="3" height="5.9" fill="#089981"/>
<path d="M104.5,443.2V453.4" stroke="#089981" stroke-width="1"/>
<rect x="103" y="444.1" width="3" height="9.1" fill="#089981"/>
<path d="M108.5,426.1V443.9" stroke="#089981" stroke-width="1"/>
<rect x="107" y="426.8" width="3" height="16.4" fill="#089981"/>
<path d="M112.5,429.7V439.3" stroke="#f23645" stroke-width="1"/>
<rect x="111" y="431.5" width="3" height="7.3" fill="#f23645"/>
<path d="M115.5,428.3V449.5" stroke="#f23645" stroke-width="1"/>
<rect x="114" y="431.2" width="3" height="15.4" fill="#f23645"/>
<path d="M119.5,443.2V455.3" stroke="#f23645" stroke-width="1"/>
<rect x="118" y="444.4" width="3" height="5.1" fill="#f23645"/>
<path d="M123.5,453.2V462.7" stroke="#f23645" stroke-width="1"/>
<rect x="122" y="454.6" width="3" height="5.6" fill="#f23645"/>
<path d="M127.5,448V463.7" stroke="#089981" stroke-width="1"/>
<rect x="126" y="451" width="3" height="12.4" fill="#089981"/>
<path d="M131.5,450.2V459.7" stroke="#f23645" stroke-width="1"/>
<rect x="130" y="450.5" width="3" height="3.4" fill="#f23645"/>
<path d="M134.5,453.9V467.8" stroke="#089981" stroke-width="1"/>
<rect x="133" y="455.3" width="3" height="11" fill="#089981"/>
<path d="M138.5,442.2V459.7" stroke="#089981" stroke-width="1"/>
<rect x="137" y="443.2" width="3" height="15.1" fill="#089981"/>
<path d="M142.5,440V448.8" stroke="#f23645" stroke-width="1"/>
<rect x="141" y="442.9" width="3" height="4.7" fill="#f23645"/>
<path d="M146.5,434.1V447.6" stroke="#089981" stroke-width="1"/>
<rect x="145" y="434.4" width="3" height="12.6" fill="#089981"/>
<path d="M150.5,424.1V432.9" stroke="#089981" stroke-width="1"/>
<rect x="149" y="424.9" width="3" height="7.3" fill="#089981"/>
<path d="M153.5,416.5V428.5" stroke="#f23645" stroke-width="1"/>
<rect x="152" y="419.7" width="3" height="8" fill="#f23645"/>
<path d="M157.5,425.6V431.7" stroke="#f23645" stroke-width="1"/>
<rect x="156" y="427.4" width="3" height="3.8" fill="#f23645"/>
<path d="M161.5,414.6V425.9" stroke="#089981" stroke-width="1"/>
<rect x="160" y="419.7" width="3" height="5.9" fill="#089981"/>
<path d="M165.5,413.9V423.8" stroke="#089981" stroke-width="1"/>
<rect x="164" y="415.1" width="3" height="8.3" fill="#089981"/>
<path d="M169.5,416.1V428.8" stroke="#f23645" stroke-width="1"/>
<rect x="168" y="417.1" width="3" height="11.4" fill="#f23645"/>
<path d="M172.5,419.7V435.1" stroke="#f23645" stroke-width="1"/>
<rect x="171" y="424.1" width="3" height="8" fill="#f23645"/>
<path d="M176.5,428.5V436.6" stroke="#f23645" stroke-width="1"/>
<rect x="175" y="432.2" width="3" height="2.9" fill="#f23645"/>
<path d="M180.5,422.4V431.7" stroke="#089981" stroke-width="1"/>
<rect x="179" y="429.7" width="3" height="1.5" fill="#089981"/>
<path d="M184.5,424.9V432.6" stroke="#089981" stroke-width="1"/>
<rect x="183" y="427.8" width="3" height="3.7" fill="#089981"/>
<path d="M188.5,421.5V432.9" stroke="#089981" stroke-width="1"/>
<rect x="187" y="422.4" width="3" height="1.5" fill="#089981"/>
<path d="M191.5,415.6V427.8" stroke="#f23645" stroke-width="1"/>
<rect x="190" y="416.5" width="3" height="10.8" fill="#f23645"/>
<path d="M195.5,431.2V445.8" stroke="#f23645" stroke-width="1"/>
<rect x="194" y="432.2" width="3" height="11" fill="#f23645"/>
<path d="M199.5,449V459.2" stroke="#f23645" stroke-width="1"/>
<rect x="198" y="453.4" width="3" height="2.2" fill="#f23645"/>
<path d="M203.5,440.2V454.9" stroke="#089981" stroke-width="1"/>
<rect x="202" y="441.7" width="3" height="12.4" fill="#089981"/>
<path d="M207.5,440.2V451.2" stroke="#f23645" stroke-width="1"/>
<rect x="206" y="443.9" width="3" height="6.6" fill="#f23645"/>
<path d="M210.5,441.7V451.9" stroke="#089981" stroke-width="1"/>
<rect x="209" y="442.4" width="3" height="7.3" fill="#089981"/>
<path d="M214.5,421.2V459.2" stroke="#f23645" stroke-width="1"/>
<rect x="213" y="432.9" width="3" height="24.9" fill="#f23645"/>
<path d="M218.5,430V449.7" stroke="#089981" stroke-width="1"/>
<rect x="217" y="432.9" width="3" height="16.1" fill="#089981"/>
<path d="M222.5,431.4V449.7" stroke="#f23645" stroke-width="1"/>
<rect x="221" y="432.2" width="3" height="13.2" fill="#f23645"/>
<path d="M226.5,422.7V434.4" stroke="#089981" stroke-width="1"/>
<rect x="225" y="428.5" width="3" height="5.1" fill="#089981"/>
<path d="M229.5,437.3V459.2" stroke="#f23645" stroke-width="1"/>
<rect x="228" y="441.7" width="3" height="16.8" fill="#f23645"/>
<path d="M233.5,449V471.7" stroke="#f23645" stroke-width="1"/>
<rect x="232" y="458.5" width="3" height="2.2" fill="#f23645"/>
<path d="M237.5,438.8V456.3" stroke="#089981" stroke-width="1"/>
<rect x="236" y="441.7" width="3" height="13.9" fill="#089981"/>
<path d="M241.5,440.2V451.9" stroke="#089981" stroke-width="1"/>
<rect x="240" y="446.1" width="3" height="5.1" fill="#089981"/>
<path d="M245.5,441.7V453.4" stroke="#f23645" stroke-width="1"/>
<rect x="244" y="443.2" width="3" height="4.4" fill="#f23645"/>
<path d="M248.5,446.1V473.1" stroke="#f23645" stroke-width="1"/>
<rect x="247" y="447.5" width="3" height="9.5" fill="#f23645"/>
<path d="M252.5,446.8V462.9" stroke="#f23645" stroke-width="1"/>
<rect x="251" y="449" width="3" height="12.4" fill="#f23645"/>
<path d="M256.5,449V467.7" stroke="#089981" stroke-width="1"/>
<rect x="255" y="449.7" width="3" height="7.3" fill="#089981"/>
<path d="M260.5,437V457.8" stroke="#089981" stroke-width="1"/>
<rect x="259" y="438" width="3" height="11" fill="#089981"/>
<path d="M264.5,427.8V436.6" stroke="#f23645" stroke-width="1"/>
<rect x="263" y="428.2" width="3" height="4.4" fill="#f23645"/>
<path d="M267.5,434.4V443.2" stroke="#f23645" stroke-width="1"/>
<rect x="266" y="438" width="3" height="1.5" fill="#f23645"/>
<path d="M271.5,440.2V449.7" stroke="#089981" stroke-width="1"/>
<rect x="270" y="441.7" width="3" height="1" fill="#089981"/>
<path d="M275.5,430V435.8" stroke="#089981" stroke-width="1"/>
<rect x="274" y="431.2" width="3" height="4" fill="#089981"/>
<path d="M279.5,416.6V429.7" stroke="#089981" stroke-width="1"/>
<rect x="278" y="417.3" width="3" height="11.7" fill="#089981"/>
<path d="M283.5,395.6V420.9" stroke="#089981" stroke-width="1"/>
<rect x="282" y="396.5" width="3" height="24" fill="#089981"/>
<path d="M286.5,388.8V396.8" stroke="#089981" stroke-width="1"/>
<rect x="285" y="390.2" width="3" height="5.9" fill="#089981"/>
<path d="M290.5,374.1V385.8" stroke="#089981" stroke-width="1"/>
<rect x="289" y="376.3" width="3" height="9.5" fill="#089981"/>
<path d="M294.5,366.8V377.8" stroke="#089981" stroke-width="1"/>
<rect x="293" y="368.3" width="3" height="9.2" fill="#089981"/>
<path d="M298.5,363.9V368.3" stroke="#089981" stroke-width="1"/>
<rect x="297" y="365.8" width="3" height="0.9" fill="#089981"/>
<path d="M302.5,361V369.7" stroke="#f23645" stroke-width="1"/>
<rect x="301" y="361.4" width="3" height="7.9" fill="#f23645"/>
<path d="M305.5,365.3V374.1" stroke="#089981" stroke-width="1"/>
<rect x="304" y="369.7" width="3" height="4" fill="#089981"/>
<path d="M309.5,363.9V373.1" stroke="#089981" stroke-width="1"/>
<rect x="308" y="364.9" width="3" height="7.8" fill="#089981"/>
<path d="M313.5,361V365.3" stroke="#f23645" stroke-width="1"/>
<rect x="312" y="362" width="3" height="0.9" fill="#f23645"/>
<path d="M317.5,357.3V366.4" stroke="#f23645" stroke-width="1"/>
<rect x="316" y="361.4" width="3" height="4.4" fill="#f23645"/>
<path d="M321.5,366.4V371.6" stroke="#f23645" stroke-width="1"/>
<rect x="320" y="368.3" width="3" height="2.9" fill="#f23645"/>
<path d="M324.5,368.3V376" stroke="#f23645" stroke-width="1"/>
<rect x="323" y="371.2" width="3" height="4.4" fill="#f23645"/>
<path d="M328.5,369.7V376" stroke="#f23645" stroke-width="1"/>
<rect x="327" y="372.7" width="3" height="2.9" fill="#f23645"/>
<path d="M332.5,385.1V395" stroke="#f23645" stroke-width="1"/>
<rect x="331" y="388.8" width="3" height="5.9" fill="#f23645"/>
<path d="M336.5,396.8V415.1" stroke="#089981" stroke-width="1"/>
<rect x="335" y="399" width="3" height="6.3" fill="#089981"/>
<path d="M340.5,398.3V404.9" stroke="#089981" stroke-width="1"/>
<rect x="339" y="401.9" width="3" height="0.9" fill="#089981"/>
<path d="M343.5,393.1V404.9" stroke="#089981" stroke-width="1"/>
<rect x="342" y="393.6" width="3" height="10.5" fill="#089981"/>
<path d="M347.5,393.1V399.7" stroke="#089981" stroke-width="1"/>
<rect x="346" y="397.5" width="3" height="1.9" fill="#089981"/>
<path d="M351.5,390.2V402.7" stroke="#089981" stroke-width="1"/>
<rect x="350" y="390.7" width="3" height="7.9" fill="#089981"/>
<path d="M355.5,388V399.7" stroke="#f23645" stroke-width="1"/>
<rect x="354" y="389.5" width="3" height="9.1" fill="#f23645"/>
<path d="M359.5,377.1V396.8" stroke="#089981" stroke-width="1"/>
<rect x="358" y="377.5" width="3" height="16.1" fill="#089981"/>
<path d="M362.5,366.1V381" stroke="#089981" stroke-width="1"/>
<rect x="361" y="369" width="3" height="9.9" fill="#089981"/>
<path d="M366.5,360.2V374.9" stroke="#089981" stroke-width="1"/>
<rect x="365" y="369.7" width="3" height="0.9" fill="#089981"/>
<path d="M370.5,368.3V374.9" stroke="#089981" stroke-width="1"/>
<rect x="369" y="370.2" width="3" height="4" fill="#089981"/>
<path d="M374.5,364.9V379.5" stroke="#f23645" stroke-width="1"/>
<rect x="373" y="369.7" width="3" height="7.8" fill="#f23645"/>
<path d="M378.5,379.2V390.2" stroke="#f23645" stroke-width="1"/>
<rect x="377" y="380.7" width="3" height="2.9" fill="#f23645"/>
<path d="M381.5,367.2V376" stroke="#089981" stroke-width="1"/>
<rect x="380" y="373.1" width="3" height="0.9" fill="#089981"/>
<path d="M385.5,350V371.9" stroke="#089981" stroke-width="1"/>
<rect x="384" y="352.2" width="3" height="19.5" fill="#089981"/>
<path d="M389.5,347.1V352.9" stroke="#f23645" stroke-width="1"/>
<rect x="388" y="348.2" width="3" height="0.9" fill="#f23645"/>
<path d="M393.5,331.3V344.1" stroke="#089981" stroke-width="1"/>
<rect x="392" y="332.4" width="3" height="11.4" fill="#089981"/>
<path d="M397.5,321.9V333.6" stroke="#089981" stroke-width="1"/>
<rect x="396" y="328.3" width="3" height="4.1" fill="#089981"/>
<path d="M400.5,322.9V332.1" stroke="#089981" stroke-width="1"/>
<rect x="399" y="323.4" width="3" height="8.3" fill="#089981"/>
<path d="M404.5,304.6V316" stroke="#089981" stroke-width="1"/>
<rect x="403" y="309.8" width="3" height="5.9" fill="#089981"/>
<path d="M408.5,298.8V309.8" stroke="#089981" stroke-width="1"/>
<rect x="407" y="299.9" width="3" height="8.8" fill="#089981"/>
<path d="M412.5,292.9V303.9" stroke="#f23645" stroke-width="1"/>
<rect x="411" y="296.1" width="3" height="6.3" fill="#f23645"/>
<path d="M416.5,303.9V320.7" stroke="#089981" stroke-width="1"/>
<rect x="415" y="308.3" width="3" height="8.8" fill="#089981"/>
<path d="M419.5,295.9V306.8" stroke="#089981" stroke-width="1"/>
<rect x="418" y="299.5" width="3" height="3.4" fill="#089981"/>
<path d="M423.5,284.4V295.4" stroke="#089981" stroke-width="1"/>
<rect x="422" y="285.9" width="3" height="8.8" fill="#089981"/>
<path d="M427.5,280.1V284.4" stroke="#089981" stroke-width="1"/>
<rect x="426" y="280.8" width="3" height="2.9" fill="#089981"/>
<path d="M431.5,276.4V282.2" stroke="#f23645" stroke-width="1"/>
<rect x="430" y="277.1" width="3" height="3.7" fill="#f23645"/>
<path d="M435.5,297.3V309.8" stroke="#089981" stroke-width="1"/>
<rect x="434" y="298" width="3" height="10.2" fill="#089981"/>
<path d="M438.5,292.9V306.8" stroke="#089981" stroke-width="1"/>
<rect x="437" y="293.7" width="3" height="2.9" fill="#089981"/>
<path d="M442.5,288.8V300.2" stroke="#089981" stroke-width="1"/>
<rect x="441" y="289.6" width="3" height="9.9" fill="#089981"/>
<path d="M446.5,268.3V281.7" stroke="#089981" stroke-width="1"/>
<rect x="445" y="268.6" width="3" height="12.9" fill="#089981"/>
<path d="M450.5,267.5V277.8" stroke="#f23645" stroke-width="1"/>
<rect x="449" y="269" width="3" height="8" fill="#f23645"/>
<path d="M454.5,267.5V276.3" stroke="#089981" stroke-width="1"/>
<rect x="453" y="269" width="3" height="5.4" fill="#089981"/>
<path d="M457.5,261V270.5" stroke="#089981" stroke-width="1"/>
<rect x="456" y="261.2" width="3" height="8.5" fill="#089981"/>
<path d="M461.5,252.2V264.6" stroke="#089981" stroke-width="1"/>
<rect x="460" y="253.6" width="3" height="6.6" fill="#089981"/>
<path d="M465.5,226.6V244.9" stroke="#089981" stroke-width="1"/>
<rect x="464" y="227" width="3" height="12.7" fill="#089981"/>
<path d="M469.5,228V234.6" stroke="#f23645" stroke-width="1"/>
<rect x="468" y="231.7" width="3" height="1.5" fill="#f23645"/>
<path d="M473.5,215.3V229.5" stroke="#089981" stroke-width="1"/>
<rect x="472" y="215.9" width="3" height="12.9" fill="#089981"/>
<path d="M476.5,211.2V219.3" stroke="#f23645" stroke-width="1"/>
<rect x="475" y="211.2" width="3" height="0.9" fill="#f23645"/>
<path d="M480.5,207.1V237.8" stroke="#f23645" stroke-width="1"/>
<rect x="479" y="210.5" width="3" height="26.8" fill="#f23645"/>
<path d="M484.5,229.5V245.6" stroke="#f23645" stroke-width="1"/>
<rect x="483" y="233.2" width="3" height="11.4" fill="#f23645"/>
<path d="M488.5,239.7V249.5" stroke="#f23645" stroke-width="1"/>
<rect x="487" y="243.4" width="3" height="3.2" fill="#f23645"/>
<path d="M492.5,232.4V248.5" stroke="#f23645" stroke-width="1"/>
<rect x="491" y="234.6" width="3" height="3.7" fill="#f23645"/>
<path d="M495.5,229.5V242.7" stroke="#089981" stroke-width="1"/>
<rect x="494" y="239" width="3" height="2.6" fill="#089981"/>
<path d="M499.5,213.4V230.2" stroke="#089981" stroke-width="1"/>
<rect x="498" y="215.9" width="3" height="13.6" fill="#089981"/>
<path d="M503.5,222.2V240.5" stroke="#f23645" stroke-width="1"/>
<rect x="502" y="228.5" width="3" height="2.9" fill="#f23645"/>
<path d="M507.5,230.2V242.7" stroke="#089981" stroke-width="1"/>
<rect x="506" y="231" width="3" height="9.2" fill="#089981"/>
<path d="M511.5,186.3V230.2" stroke="#089981" stroke-width="1"/>
<rect x="510" y="195.1" width="3" height="27.1" fill="#089981"/>
<path d="M514.5,211.2V244.9" stroke="#f23645" stroke-width="1"/>
<rect x="513" y="211.9" width="3" height="32.6" fill="#f23645"/>
<path d="M518.5,193.4V215.6" stroke="#089981" stroke-width="1"/>
<rect x="517" y="198.3" width="3" height="17" fill="#089981"/>
<path d="M522.5,176.1V199.5" stroke="#089981" stroke-width="1"/>
<rect x="521" y="179" width="3" height="11" fill="#089981"/>
<path d="M526.5,190V211.2" stroke="#f23645" stroke-width="1"/>
<rect x="525" y="191.5" width="3" height="12.1" fill="#f23645"/>
<path d="M530.5,193.9V231.7" stroke="#f23645" stroke-width="1"/>
<rect x="529" y="194.4" width="3" height="32.9" fill="#f23645"/>
<path d="M533.5,213.4V247.5" stroke="#f23645" stroke-width="1"/>
<rect x="532" y="223.2" width="3" height="21.7" fill="#f23645"/>
<path d="M537.5,215.3V235.3" stroke="#089981" stroke-width="1"/>
<rect x="536" y="223.2" width="3" height="9.7" fill="#089981"/>
<path d="M541.5,217.1V237.5" stroke="#f23645" stroke-width="1"/>
<rect x="540" y="228" width="3" height="1.5" fill="#f23645"/>
<path d="M545.5,201.3V234.6" stroke="#089981" stroke-width="1"/>
<rect x="544" y="203.6" width="3" height="30.3" fill="#089981"/>
<path d="M549.5,194.8V207.5" stroke="#089981" stroke-width="1"/>
<rect x="548" y="195.4" width="3" height="9.2" fill="#089981"/>
<path d="M552.5,176.1V189.3" stroke="#089981" stroke-width="1"/>
<rect x="551" y="181.9" width="3" height="6.6" fill="#089981"/>
<path d="M556.5,181.9V195.8" stroke="#089981" stroke-width="1"/>
<rect x="555" y="186.8" width="3" height="1" fill="#089981"/>
<path d="M560.5,185.2V213.4" stroke="#f23645" stroke-width="1"/>
<rect x="559" y="187.1" width="3" height="17.6" fill="#f23645"/>
<path d="M564.5,206.5V219.3" stroke="#f23645" stroke-width="1"/>
<rect x="563" y="208.3" width="3" height="2.2" fill="#f23645"/>
<path d="M568.5,195.8V214.9" stroke="#f23645" stroke-width="1"/>
<rect x="567" y="198.8" width="3" height="13.2" fill="#f23645"/>
<path d="M571.5,193.4V213" stroke="#089981" stroke-width="1"/>
<rect x="570" y="197.3" width="3" height="13.9" fill="#089981"/>
<path d="M575.5,192.2V213.8" stroke="#f23645" stroke-width="1"/>
<rect x="574" y="192.5" width="3" height="20.9" fill="#f23645"/>
<path d="M579.5,219V234.4" stroke="#089981" stroke-width="1"/>
<rect x="578" y="223.4" width="3" height="5.9" fill="#089981"/>
<path d="M583.5,226.3V241" stroke="#f23645" stroke-width="1"/>
<rect x="582" y="230.3" width="3" height="6.3" fill="#f23645"/>
<path d="M587.5,244.6V264.8" stroke="#f23645" stroke-width="1"/>
<rect x="586" y="249" width="3" height="5.1" fill="#f23645"/>
<path d="M590.5,229.3V243.9" stroke="#089981" stroke-width="1"/>
<rect x="589" y="230.7" width="3" height="12.4" fill="#089981"/>
<path d="M594.5,233.6V254.6" stroke="#f23645" stroke-width="1"/>
<rect x="593" y="234.4" width="3" height="5.9" fill="#f23645"/>
<path d="M598.5,254.1V283.4" stroke="#f23645" stroke-width="1"/>
<rect x="597" y="273.1" width="3" height="8.8" fill="#f23645"/>
<path d="M602.5,290V361.7" stroke="#f23645" stroke-width="1"/>
<rect x="601" y="292.2" width="3" height="57.8" fill="#f23645"/>
<path d="M606.5,339V497" stroke="#089981" stroke-width="1"/>
<rect x="605" y="405.6" width="3" height="73.2" fill="#089981"/>
<path d="M609.5,360.2V399" stroke="#089981" stroke-width="1"/>
<rect x="608" y="373.4" width="3" height="16.8" fill="#089981"/>
<path d="M613.5,390.2V433.7" stroke="#f23645" stroke-width="1"/>
<rect x="612" y="402.7" width="3" height="11.7" fill="#f23645"/>
<path d="M617.5,307.6V355.1" stroke="#f23645" stroke-width="1"/>
<rect x="616" y="312.7" width="3" height="41.7" fill="#f23645"/>
<path d="M621.5,339V383.6" stroke="#f23645" stroke-width="1"/>
<rect x="620" y="339.7" width="3" height="27.8" fill="#f23645"/>
<path d="M625.5,323.4V344.9" stroke="#089981" stroke-width="1"/>
<rect x="624" y="328.8" width="3" height="11" fill="#089981"/>
<path d="M628.5,308.3V322.5" stroke="#089981" stroke-width="1"/>
<rect x="627" y="309.8" width="3" height="12.1" fill="#089981"/>
<path d="M632.5,305.8V328.8" stroke="#089981" stroke-width="1"/>
<rect x="631" y="306.4" width="3" height="12.1" fill="#089981"/>
<path d="M636.5,297V316.6" stroke="#f23645" stroke-width="1"/>
<rect x="635" y="298.8" width="3" height="15.4" fill="#f23645"/>
<path d="M640.5,306.8V322.9" stroke="#089981" stroke-width="1"/>
<rect x="639" y="307.3" width="3" height="9.8" fill="#089981"/>
<path d="M644.5,261.4V279.4" stroke="#089981" stroke-width="1"/>
<rect x="643" y="265.8" width="3" height="11.7" fill="#089981"/>
<path d="M647.5,258.5V279.4" stroke="#089981" stroke-width="1"/>
<rect x="646" y="260" width="3" height="10.2" fill="#089981"/>
<path d="M651.5,244.6V258.5" stroke="#089981" stroke-width="1"/>
<rect x="650" y="249" width="3" height="2.2" fill="#089981"/>
<path d="M655.5,237.6V247.5" stroke="#f23645" stroke-width="1"/>
<rect x="654" y="243.2" width="3" height="4.1" fill="#f23645"/>
<path d="M659.5,236.6V243.9" stroke="#089981" stroke-width="1"/>
<rect x="658" y="237.6" width="3" height="4.4" fill="#089981"/>
<path d="M663.5,227.8V249" stroke="#f23645" stroke-width="1"/>
<rect x="662" y="232.2" width="3" height="1.5" fill="#f23645"/>
<path d="M666.5,198.3V218.6" stroke="#089981" stroke-width="1"/>
<rect x="665" y="199.1" width="3" height="15.9" fill="#089981"/>
<path d="M670.5,182.9V201.1" stroke="#089981" stroke-width="1"/>
<rect x="669" y="183.7" width="3" height="16.9" fill="#089981"/>
<path d="M674.5,180.7V208.3" stroke="#f23645" stroke-width="1"/>
<rect x="673" y="181.5" width="3" height="7.9" fill="#f23645"/>
<path d="M678.5,186.3V198.1" stroke="#f23645" stroke-width="1"/>
<rect x="677" y="188.9" width="3" height="8.7" fill="#f23645"/>
<path d="M682.5,180.2V189.7" stroke="#089981" stroke-width="1"/>
<rect x="681" y="182.2" width="3" height="6.7" fill="#089981"/>
<path d="M685.5,172.3V178.8" stroke="#089981" stroke-width="1"/>
<rect x="684" y="174.5" width="3" height="2.3" fill="#089981"/>
<path d="M689.5,151V182.2" stroke="#f23645" stroke-width="1"/>
<rect x="688" y="160" width="3" height="11.5" fill="#f23645"/>
<path d="M693.5,166.1V172.3" stroke="#089981" stroke-width="1"/>
<rect x="692" y="167.4" width="3" height="3.9" fill="#089981"/>
<path d="M697.5,163.3V177.6" stroke="#f23645" stroke-width="1"/>
<rect x="696" y="165.1" width="3" height="8.9" fill="#f23645"/>
<path d="M701.5,163.8V183.7" stroke="#089981" stroke-width="1"/>
<rect x="700" y="164.1" width="3" height="16.1" fill="#089981"/>
<path d="M704.5,153.2V164.8" stroke="#f23645" stroke-width="1"/>
<rect x="703" y="159" width="3" height="0.9" fill="#f23645"/>
<path d="M708.5,149.7V165.1" stroke="#089981" stroke-width="1"/>
<rect x="707" y="150.1" width="3" height="14.1" fill="#089981"/>
<path d="M712.5,142.3V151.5" stroke="#089981" stroke-width="1"/>
<rect x="711" y="144" width="3" height="3.1" fill="#089981"/>
<path d="M716.5,138.2V153.5" stroke="#089981" stroke-width="1"/>
<rect x="715" y="139.9" width="3" height="8.8" fill="#089981"/>
<path d="M720.5,144.3V154.6" stroke="#f23645" stroke-width="1"/>
<rect x="719" y="145.6" width="3" height="1.7" fill="#f23645"/>
<path d="M723.5,138.2V187.8" stroke="#f23645" stroke-width="1"/>
<rect x="722" y="144.8" width="3" height="23" fill="#f23645"/>
<path d="M727.5,144.3V149.7" stroke="#089981" stroke-width="1"/>
<rect x="726" y="145" width="3" height="1.6" fill="#089981"/>
<path d="M731.5,130.3V144.8" stroke="#089981" stroke-width="1"/>
<rect x="730" y="133.8" width="3" height="10.5" fill="#089981"/>
<path d="M735.5,128.2V145" stroke="#f23645" stroke-width="1"/>
<rect x="734" y="132" width="3" height="12.6" fill="#f23645"/>
<path d="M739.5,132V150.8" stroke="#f23645" stroke-width="1"/>
<rect x="738" y="132.3" width="3" height="18.1" fill="#f23645"/>
<path d="M742.5,136.1V150.1" stroke="#089981" stroke-width="1"/>
<rect x="741" y="145.3" width="3" height="4.1" fill="#089981"/>
<path d="M746.5,146.9V160.7" stroke="#089981" stroke-width="1"/>
<rect x="745" y="150.1" width="3" height="4.9" fill="#089981"/>
<path d="M750.5,140.9V156.6" stroke="#089981" stroke-width="1"/>
<rect x="749" y="141.2" width="3" height="4.6" fill="#089981"/>
<path d="M754.5,127.4V138.7" stroke="#089981" stroke-width="1"/>
<rect x="753" y="131" width="3" height="1.7" fill="#089981"/>
<path d="M758.5,120V133.8" stroke="#089981" stroke-width="1"/>
<rect x="757" y="128.2" width="3" height="3.8" fill="#089981"/>
<path d="M761.5,127.2V135.1" stroke="#089981" stroke-width="1"/>
<rect x="760" y="130" width="3" height="1.5" fill="#089981"/>
<path d="M765.5,130.3V140.5" stroke="#f23645" stroke-width="1"/>
<rect x="764" y="131.7" width="3" height="6.1" fill="#f23645"/>
<path d="M769.5,136.8V147.7" stroke="#f23645" stroke-width="1"/>
<rect x="768" y="137.7" width="3" height="9.7" fill="#f23645"/>
<path d="M773.5,138.2V149.9" stroke="#f23645" stroke-width="1"/>
<rect x="772" y="146.9" width="3" height="2.9" fill="#f23645"/>
<path d="M777.5,153.2V167.5" stroke="#089981" stroke-width="1"/>
<rect x="776" y="158.5" width="3" height="0.9" fill="#089981"/>
<path d="M780.5,171.2V182.9" stroke="#089981" stroke-width="1"/>
<rect x="779" y="173.7" width="3" height="4.8" fill="#089981"/>
<path d="M784.5,162.9V173.7" stroke="#089981" stroke-width="1"/>
<rect x="783" y="163.2" width="3" height="7.6" fill="#089981"/>
<path d="M788.5,172.2V184.4" stroke="#f23645" stroke-width="1"/>
<rect x="787" y="174.6" width="3" height="5" fill="#f23645"/>
<path d="M792.5,175.1V188" stroke="#f23645" stroke-width="1"/>
<rect x="791" y="179" width="3" height="6.9" fill="#f23645"/>
<path d="M796.5,189.5V201.2" stroke="#f23645" stroke-width="1"/>
<rect x="795" y="193.1" width="3" height="7.3" fill="#f23645"/>
<path d="M799.5,176.3V193.1" stroke="#089981" stroke-width="1"/>
<rect x="798" y="181.4" width="3" height="11" fill="#089981"/>
<path d="M803.5,180.7V199" stroke="#089981" stroke-width="1"/>
<rect x="802" y="188" width="3" height="3.7" fill="#089981"/>
<path d="M807.5,157.3V169.7" stroke="#f23645" stroke-width="1"/>
<rect x="806" y="163.9" width="3" height="3.7" fill="#f23645"/>
<path d="M811.5,162.4V177.8" stroke="#f23645" stroke-width="1"/>
<rect x="810" y="163.2" width="3" height="13.5" fill="#f23645"/>
<path d="M815.5,163.2V174.1" stroke="#089981" stroke-width="1"/>
<rect x="814" y="165.8" width="3" height="4" fill="#089981"/>
<path d="M818.5,144.1V159.5" stroke="#089981" stroke-width="1"/>
<rect x="817" y="144.9" width="3" height="10.2" fill="#089981"/>
<path d="M822.5,139.7V154.4" stroke="#f23645" stroke-width="1"/>
<rect x="821" y="140.5" width="3" height="11.7" fill="#f23645"/>
<path d="M826.5,147.8V166.1" stroke="#f23645" stroke-width="1"/>
<rect x="825" y="148.2" width="3" height="17.1" fill="#f23645"/>
<path d="M830.5,155.8V167.5" stroke="#089981" stroke-width="1"/>
<rect x="829" y="157.3" width="3" height="0.9" fill="#089981"/>
<path d="M834.5,149.7V159.9" stroke="#089981" stroke-width="1"/>
<rect x="833" y="150.3" width="3" height="3.8" fill="#089981"/>
<path d="M837.5,154.4V162.4" stroke="#f23645" stroke-width="1"/>
<rect x="836" y="156.1" width="3" height="2.3" fill="#f23645"/>
<path d="M841.5,141.9V156.6" stroke="#089981" stroke-width="1"/>
<rect x="840" y="142.4" width="3" height="13.2" fill="#089981"/>
<path d="M845.5,132.7V142.7" stroke="#089981" stroke-width="1"/>
<rect x="844" y="134.6" width="3" height="5.1" fill="#089981"/>
<path d="M849.5,113.1V133.2" stroke="#089981" stroke-width="1"/>
<rect x="848" y="115.6" width="3" height="16.1" fill="#089981"/>
<path d="M853.5,111.2V122.2" stroke="#f23645" stroke-width="1"/>
<rect x="852" y="111.7" width="3" height="9.8" fill="#f23645"/>
<path d="M856.5,125.1V136.8" stroke="#f23645" stroke-width="1"/>
<rect x="855" y="128.3" width="3" height="3.8" fill="#f23645"/>
<path d="M860.5,136.8V147.8" stroke="#089981" stroke-width="1"/>
<rect x="859" y="138" width="3" height="6.1" fill="#089981"/>
<path d="M864.5,132.1V144.9" stroke="#f23645" stroke-width="1"/>
<rect x="863" y="133.2" width="3" height="10.2" fill="#f23645"/>
<path d="M868.5,135.1V147.8" stroke="#f23645" stroke-width="1"/>
<rect x="867" y="145.6" width="3" height="1.2" fill="#f23645"/>
<path d="M872.5,125.4V135.6" stroke="#089981" stroke-width="1"/>
<rect x="871" y="126.1" width="3" height="8.8" fill="#089981"/>
<path d="M875.5,118.8V132.4" stroke="#f23645" stroke-width="1"/>
<rect x="874" y="119.5" width="3" height="11.7" fill="#f23645"/>
<path d="M879.5,128V135.6" stroke="#f23645" stroke-width="1"/>
<rect x="878" y="129" width="3" height="0.9" fill="#f23645"/>
<path d="M883.5,131.9V149.9" stroke="#f23645" stroke-width="1"/>
<rect x="882" y="132.7" width="3" height="12.9" fill="#f23645"/>
<path d="M887.5,129V140" stroke="#f23645" stroke-width="1"/>
<rect x="886" y="133" width="3" height="1.5" fill="#f23645"/>
<path d="M891.5,117.7V131.9" stroke="#f23645" stroke-width="1"/>
<rect x="890" y="118.8" width="3" height="12.1" fill="#f23645"/>
<path d="M894.5,131.9V142.2" stroke="#089981" stroke-width="1"/>
<rect x="893" y="133.8" width="3" height="7.3" fill="#089981"/>
<path d="M898.5,122.1V148.8" stroke="#f23645" stroke-width="1"/>
<rect x="897" y="122.7" width="3" height="25.3" fill="#f23645"/>
<path d="M902.5,129.5V145.1" stroke="#089981" stroke-width="1"/>
<rect x="901" y="133.8" width="3" height="10.5" fill="#089981"/>
<path d="M906.5,130.5V138.5" stroke="#089981" stroke-width="1"/>
<rect x="905" y="131.5" width="3" height="5.9" fill="#089981"/>
<path d="M910.5,121.7V144.4" stroke="#f23645" stroke-width="1"/>
<rect x="909" y="127.5" width="3" height="16.1" fill="#f23645"/>
<path d="M913.5,157.5V181.7" stroke="#f23645" stroke-width="1"/>
<rect x="912" y="158.3" width="3" height="22.7" fill="#f23645"/>
<path d="M917.5,159V174.4" stroke="#089981" stroke-width="1"/>
<rect x="916" y="159.7" width="3" height="13.6" fill="#089981"/>
<path d="M921.5,148.5V158.3" stroke="#f23645" stroke-width="1"/>
<rect x="920" y="151" width="3" height="4.8" fill="#f23645"/>
<path d="M925.5,146.1V156.8" stroke="#f23645" stroke-width="1"/>
<rect x="924" y="147" width="3" height="4.7" fill="#f23645"/>
<path d="M929.5,124.6V152" stroke="#089981" stroke-width="1"/>
<rect x="928" y="133.4" width="3" height="18" fill="#089981"/>
<path d="M932.5,132.7V140.7" stroke="#f23645" stroke-width="1"/>
<rect x="931" y="136.3" width="3" height="1" fill="#f23645"/>
<path d="M936.5,134.1V145.1" stroke="#f23645" stroke-width="1"/>
<rect x="935" y="135.3" width="3" height="7.3" fill="#f23645"/>
<path d="M940.5,137.8V148.8" stroke="#f23645" stroke-width="1"/>
<rect x="939" y="138.5" width="3" height="7.6" fill="#f23645"/>
<path d="M944.5,133V138.8" stroke="#089981" stroke-width="1"/>
<rect x="943" y="135.3" width="3" height="2.9" fill="#089981"/>
<path d="M948.5,124.6V135.9" stroke="#089981" stroke-width="1"/>
<rect x="947" y="126.1" width="3" height="9.2" fill="#089981"/>
<path d="M951.5,116.6V128.3" stroke="#f23645" stroke-width="1"/>
<rect x="950" y="117.3" width="3" height="10.2" fill="#f23645"/>
<path d="M955.5,127.5V132.7" stroke="#089981" stroke-width="1"/>
<rect x="954" y="129.5" width="3" height="1.5" fill="#089981"/>
<path d="M959.5,121.7V130.5" stroke="#089981" stroke-width="1"/>
<rect x="958" y="122.7" width="3" height="5.3" fill="#089981"/>
<path d="M963.5,126.5V133" stroke="#089981" stroke-width="1"/>
<rect x="962" y="131.2" width="3" height="1.2" fill="#089981"/>
<path d="M967.5,129.5V135.3" stroke="#089981" stroke-width="1"/>
<rect x="966" y="130" width="3" height="1.5" fill="#089981"/>
<path d="M970.5,122.1V133" stroke="#089981" stroke-width="1"/>
<rect x="969" y="126.1" width="3" height="5.9" fill="#089981"/>
<path d="M974.5,124.6V134.9" stroke="#089981" stroke-width="1"/>
<rect x="973" y="126.8" width="3" height="7.3" fill="#089981"/>
<path d="M978.5,132.7V143.6" stroke="#089981" stroke-width="1"/>
<rect x="977" y="138.2" width="3" height="2.5" fill="#089981"/>
<path d="M982.5,135.3V147.6" stroke="#f23645" stroke-width="1"/>
<rect x="981" y="136.3" width="3" height="9.2" fill="#f23645"/>
<path d="M986.5,134.9V147.6" stroke="#f23645" stroke-width="1"/>
<rect x="985" y="135.9" width="3" height="9.2" fill="#f23645"/>
<path d="M989.5,143.2V152.9" stroke="#f23645" stroke-width="1"/>
<rect x="988" y="147.3" width="3" height="5.1" fill="#f23645"/>
<path d="M993.5,144.1V147.6" stroke="#089981" stroke-width="1"/>
<rect x="992" y="144.4" width="3" height="2.2" fill="#089981"/>
<path d="M997.5,146.6V176.9" stroke="#f23645" stroke-width="1"/>
<rect x="996" y="147.6" width="3" height="29" fill="#f23645"/>
<path d="M1001.5,160.2V173.6" stroke="#f23645" stroke-width="1"/>
<rect x="1000" y="168.5" width="3" height="1" fill="#f23645"/>
<path d="M1005.5,158.3V167.8" stroke="#089981" stroke-width="1"/>
<rect x="1004" y="159" width="3" height="7.3" fill="#089981"/>
<path d="M1008.5,154.9V171.9" stroke="#f23645" stroke-width="1"/>
<rect x="1007" y="155.3" width="3" height="14.6" fill="#f23645"/>
<path d="M1012.5,156.1V164.9" stroke="#089981" stroke-width="1"/>
<rect x="1011" y="156.8" width="3" height="6.6" fill="#089981"/>
<path d="M1016.5,154.3V167.1" stroke="#f23645" stroke-width="1"/>
<rect x="1015" y="156.1" width="3" height="6.6" fill="#f23645"/>
<path d="M1020.5,153.2V168.5" stroke="#f23645" stroke-width="1"/>
<rect x="1019" y="155.8" width="3" height="11.3" fill="#f23645"/>
<path d="M1024.5,158.3V170.7" stroke="#089981" stroke-width="1"/>
<rect x="1023" y="162.7" width="3" height="4.4" fill="#089981"/>
<path d="M1027.5,158.3V168.5" stroke="#f23645" stroke-width="1"/>
<rect x="1026" y="159.7" width="3" height="3.7" fill="#f23645"/>
<path d="M1031.5,154.6V164.9" stroke="#f23645" stroke-width="1"/>
<rect x="1030" y="159" width="3" height="2.2" fill="#f23645"/>
<path d="M1035.5,162.2V185.6" stroke="#f23645" stroke-width="1"/>
<rect x="1034" y="163.1" width="3" height="22.2" fill="#f23645"/>
<path d="M1039.5,176.6V186.5" stroke="#f23645" stroke-width="1"/>
<rect x="1038" y="180.2" width="3" height="2.9" fill="#f23645"/>
<path d="M1043.5,164.1V170.7" stroke="#089981" stroke-width="1"/>
<rect x="1042" y="165.1" width="3" height="4.8" fill="#089981"/>
<path d="M1046.5,159.7V168.5" stroke="#f23645" stroke-width="1"/>
<rect x="1045" y="162.7" width="3" height="4.8" fill="#f23645"/>
<path d="M1050.5,168.5V178" stroke="#f23645" stroke-width="1"/>
<rect x="1049" y="170" width="3" height="3.7" fill="#f23645"/>
<path d="M1054.5,162.7V170.4" stroke="#089981" stroke-width="1"/>
<rect x="1053" y="167.1" width="3" height="1" fill="#089981"/>
<path d="M1058.5,161.9V174.4" stroke="#089981" stroke-width="1"/>
<rect x="1057" y="164.9" width="3" height="5.1" fill="#089981"/>
<path d="M1062.5,167.5V181" stroke="#f23645" stroke-width="1"/>
<rect x="1061" y="168.5" width="3" height="5.1" fill="#f23645"/>
<path d="M1065.5,160.5V167.8" stroke="#089981" stroke-width="1"/>
<rect x="1064" y="161.9" width="3" height="5.6" fill="#089981"/>
<path d="M1069.5,155.5V162.7" stroke="#f23645" stroke-width="1"/>
<rect x="1068" y="156.6" width="3" height="4.8" fill="#f23645"/>
<path d="M1073.5,152.2V164.2" stroke="#089981" stroke-width="1"/>
<rect x="1072" y="153.3" width="3" height="9.9" fill="#089981"/>
<path d="M1077.5,136.8V161" stroke="#089981" stroke-width="1"/>
<rect x="1076" y="139.4" width="3" height="20.4" fill="#089981"/>
<path d="M1081.5,118.8V133.5" stroke="#089981" stroke-width="1"/>
<rect x="1080" y="122.5" width="3" height="9.9" fill="#089981"/>
<path d="M1084.5,116V124.7" stroke="#f23645" stroke-width="1"/>
<rect x="1083" y="117.5" width="3" height="6.1" fill="#f23645"/>
<path d="M1088.5,121.4V130.2" stroke="#089981" stroke-width="1"/>
<rect x="1087" y="124.7" width="3" height="2.2" fill="#089981"/>
<path d="M1092.5,121.4V128" stroke="#f23645" stroke-width="1"/>
<rect x="1091" y="124.3" width="3" height="1.1" fill="#f23645"/>
<path d="M1096.5,111.6V125.8" stroke="#089981" stroke-width="1"/>
<rect x="1095" y="112.7" width="3" height="12.5" fill="#089981"/>
<path d="M1100.5,103.9V114.9" stroke="#f23645" stroke-width="1"/>
<rect x="1099" y="108.7" width="3" height="5" fill="#f23645"/>
<path d="M1103.5,107.2V134.2" stroke="#f23645" stroke-width="1"/>
<rect x="1102" y="109.4" width="3" height="24.1" fill="#f23645"/>
<path d="M1107.5,122.5V132.4" stroke="#089981" stroke-width="1"/>
<rect x="1106" y="125" width="3" height="0.9" fill="#089981"/>
<path d="M1111.5,131.3V146.7" stroke="#089981" stroke-width="1"/>
<rect x="1110" y="132.4" width="3" height="5.5" fill="#089981"/>
<path d="M1115.5,128.5V137.2" stroke="#f23645" stroke-width="1"/>
<rect x="1114" y="131.3" width="3" height="5.5" fill="#f23645"/>
<path d="M1119.5,130.2V143.4" stroke="#089981" stroke-width="1"/>
<rect x="1118" y="131.3" width="3" height="5.5" fill="#089981"/>
<path d="M1122.5,146.7V163.1" stroke="#f23645" stroke-width="1"/>
<rect x="1121" y="154.8" width="3" height="1.8" fill="#f23645"/>
<path d="M1126.5,129.8V147.3" stroke="#089981" stroke-width="1"/>
<rect x="1125" y="132.4" width="3" height="14.3" fill="#089981"/>
<text x="526.7" y="119.1" font-size="17" fill="#1f9d85" textLength="21.5" lengthAdjust="spacingAndGlyphs" text-anchor="middle" stroke="#1f9d85" stroke-width="0.45">(5)</text>
<text x="520" y="149.7" font-size="17" fill="#e03f55" textLength="21" lengthAdjust="spacingAndGlyphs" text-anchor="middle" stroke="#e03f55" stroke-width="0.45">(3)</text>
<circle cx="541" cy="95.4" r="10.7" fill="none" stroke="#d1434f" stroke-width="1.05"/>
<text x="541" y="100.3" font-size="15" fill="#d1434f" text-anchor="middle" stroke="#d1434f" stroke-width="0.3">y</text>
<text x="648.5" y="109.6" font-size="17" fill="#2f55d4" text-anchor="middle" stroke="#2f55d4" stroke-width="0.45">3</text>
<circle cx="674.9" cy="121.7" r="10.7" fill="none" stroke="#d1434f" stroke-width="1.05"/>
<text x="674.9" y="126.6" font-size="15" fill="#d1434f" textLength="11" lengthAdjust="spacingAndGlyphs" text-anchor="middle" stroke="#d1434f" stroke-width="0.3">iii</text>
<circle cx="731.3" cy="85.5" r="10.7" fill="none" stroke="#d1434f" stroke-width="1.05"/>
<text x="731.3" y="90.4" font-size="15" fill="#d1434f" text-anchor="middle" stroke="#d1434f" stroke-width="0.3">v</text>
<text x="731.9" y="56.3" font-size="17" fill="#e03f55" text-anchor="middle" stroke="#e03f55" stroke-width="0.45">3</text>
<text x="606.2" y="224.8" font-size="17" fill="#2f55d4" text-anchor="middle" stroke="#2f55d4" stroke-width="0.45">1</text>
<text x="812.2" y="82.6" font-size="17" fill="#6fb874" textLength="21.6" lengthAdjust="spacingAndGlyphs" text-anchor="middle" stroke="#6fb874" stroke-width="0.45">(B)</text>
<text x="777.5" y="253.1" font-size="17" fill="#e03f55" text-anchor="middle" stroke="#e03f55" stroke-width="0.45">4</text>
<text x="706" y="287.7" font-size="17" fill="#2f55d4" text-anchor="middle" stroke="#2f55d4" stroke-width="0.45">4</text>
<text x="678.5" y="382.1" font-size="17" fill="#2f55d4" text-anchor="middle" stroke="#2f55d4" stroke-width="0.45">2</text>
<circle cx="621.4" cy="275" r="10.7" fill="none" stroke="#d1434f" stroke-width="1.05"/>
<text x="621.4" y="279.9" font-size="15" fill="#d1434f" text-anchor="middle" stroke="#d1434f" stroke-width="0.3">i</text>
<circle cx="644.5" cy="349.7" r="10.7" fill="none" stroke="#d1434f" stroke-width="1.05"/>
<text x="644.5" y="354.6" font-size="15" fill="#d1434f" textLength="7.5" lengthAdjust="spacingAndGlyphs" text-anchor="middle" stroke="#d1434f" stroke-width="0.3">ii</text>
<circle cx="709.9" cy="231.4" r="10.7" fill="none" stroke="#d1434f" stroke-width="1.05"/>
<text x="709.9" y="236.3" font-size="15" fill="#d1434f" textLength="11" lengthAdjust="spacingAndGlyphs" text-anchor="middle" stroke="#d1434f" stroke-width="0.3">iv</text>
<text x="611" y="346.7" font-size="11.5" fill="#e8664a" text-anchor="middle">1</text>
<text x="617.2" y="456.1" font-size="17" fill="#e03f55" text-anchor="middle" stroke="#e03f55" stroke-width="0.45">2</text>
<text x="591.7" y="535.9" font-size="17" fill="#4caf50" textLength="22" lengthAdjust="spacingAndGlyphs" text-anchor="middle" stroke="#4caf50" stroke-width="0.45">(A)</text>
<text x="611" y="562.6" font-size="17" fill="#e03f55" textLength="21" lengthAdjust="spacingAndGlyphs" text-anchor="middle" stroke="#e03f55" stroke-width="0.45">(4)</text>
<text x="1146" y="42.1" font-size="17" fill="#2f55d4" text-anchor="middle" stroke="#2f55d4" stroke-width="0.45">5</text>
<text x="1203" y="591.3" font-size="17" fill="#4caf50" textLength="22" lengthAdjust="spacingAndGlyphs" text-anchor="middle" stroke="#4caf50" stroke-width="0.45">(C)</text>
<text x="618" y="226.1" font-size="8.5" fill="#5b86dc" textLength="52" lengthAdjust="spacingAndGlyphs">kimerülési rés.</text>
<text x="675" y="209.8" font-size="12" fill="#787b86" textLength="70.5" lengthAdjust="spacingAndGlyphs">0 (22,952.59)</text>
<text x="40.5" y="442.5" font-size="14" fill="#3f66d0" text-anchor="middle">v</text>
<text x="43" y="474.8" font-size="10" fill="#4a72d8" font-weight="bold" textLength="29" lengthAdjust="spacingAndGlyphs">18728</text>
<text x="50" y="495.1" font-size="10" fill="#4a72d8" font-weight="bold" textLength="26" lengthAdjust="spacingAndGlyphs">18637</text>
<text x="182" y="420.9" font-size="12.5" fill="#4a72d0" textLength="59.5" lengthAdjust="spacingAndGlyphs">Lower High</text>
<text x="171" y="450.1" font-size="12.5" fill="#4a72d0" textLength="20" lengthAdjust="spacingAndGlyphs">Low</text>
<text x="171" y="473.3" font-size="12.5" fill="#4a72d0" textLength="57" lengthAdjust="spacingAndGlyphs">Lower Low</text>
<g><line x1="1288.8" y1="526.2" x2="1298.2" y2="538.7" stroke="#3949ab" stroke-width="5" stroke-linecap="butt"/><circle cx="1282.2" cy="517.4" r="11.3" fill="#ffffff" stroke="#3949ab" stroke-width="3.4"/><polyline points="1274,517.5 1277.5,517.5 1278.8,514 1280.6,522.3 1282.6,512.6 1284.4,519.6 1285.6,516.4 1287,517.5 1290.6,517.5" fill="none" stroke="#f01e28" stroke-width="1.2" stroke-linejoin="round"/></g>
</g>
<g clip-path="url(#cr)">
<rect x="10" y="607.3" width="1440" height="24.4" fill="#d6ecd9"/>
<rect x="10" y="643" width="1440" height="23.7" fill="#ffe3e6"/>
<rect x="10" y="671" width="1440" height="22.7" fill="#d6ecd9"/>
<rect x="10" y="702.7" width="1440" height="28.6" fill="#ffe3e6"/>
<line x1="36.5" y1="607.3" x2="36.5" y2="631.7" stroke="#000000" stroke-width="1" stroke-opacity="0.04"/>
<line x1="36.5" y1="643" x2="36.5" y2="666.7" stroke="#000000" stroke-width="1" stroke-opacity="0.04"/>
<line x1="36.5" y1="671" x2="36.5" y2="693.7" stroke="#000000" stroke-width="1" stroke-opacity="0.04"/>
<line x1="36.5" y1="702.7" x2="36.5" y2="731.3" stroke="#000000" stroke-width="1" stroke-opacity="0.04"/>
<line x1="116.5" y1="607.3" x2="116.5" y2="631.7" stroke="#000000" stroke-width="1" stroke-opacity="0.04"/>
<line x1="116.5" y1="643" x2="116.5" y2="666.7" stroke="#000000" stroke-width="1" stroke-opacity="0.04"/>
<line x1="116.5" y1="671" x2="116.5" y2="693.7" stroke="#000000" stroke-width="1" stroke-opacity="0.04"/>
<line x1="116.5" y1="702.7" x2="116.5" y2="731.3" stroke="#000000" stroke-width="1" stroke-opacity="0.04"/>
<line x1="203.5" y1="607.3" x2="203.5" y2="631.7" stroke="#000000" stroke-width="1" stroke-opacity="0.04"/>
<line x1="203.5" y1="643" x2="203.5" y2="666.7" stroke="#000000" stroke-width="1" stroke-opacity="0.04"/>
<line x1="203.5" y1="671" x2="203.5" y2="693.7" stroke="#000000" stroke-width="1" stroke-opacity="0.04"/>
<line x1="203.5" y1="702.7" x2="203.5" y2="731.3" stroke="#000000" stroke-width="1" stroke-opacity="0.04"/>
<line x1="283.5" y1="607.3" x2="283.5" y2="631.7" stroke="#000000" stroke-width="1" stroke-opacity="0.04"/>
<line x1="283.5" y1="643" x2="283.5" y2="666.7" stroke="#000000" stroke-width="1" stroke-opacity="0.04"/>
<line x1="283.5" y1="671" x2="283.5" y2="693.7" stroke="#000000" stroke-width="1" stroke-opacity="0.04"/>
<line x1="283.5" y1="702.7" x2="283.5" y2="731.3" stroke="#000000" stroke-width="1" stroke-opacity="0.04"/>
<line x1="352.5" y1="607.3" x2="352.5" y2="631.7" stroke="#000000" stroke-width="1" stroke-opacity="0.04"/>
<line x1="352.5" y1="643" x2="352.5" y2="666.7" stroke="#000000" stroke-width="1" stroke-opacity="0.04"/>
<line x1="352.5" y1="671" x2="352.5" y2="693.7" stroke="#000000" stroke-width="1" stroke-opacity="0.04"/>
<line x1="352.5" y1="702.7" x2="352.5" y2="731.3" stroke="#000000" stroke-width="1" stroke-opacity="0.04"/>
<line x1="434.5" y1="607.3" x2="434.5" y2="631.7" stroke="#000000" stroke-width="1" stroke-opacity="0.04"/>
<line x1="434.5" y1="643" x2="434.5" y2="666.7" stroke="#000000" stroke-width="1" stroke-opacity="0.04"/>
<line x1="434.5" y1="671" x2="434.5" y2="693.7" stroke="#000000" stroke-width="1" stroke-opacity="0.04"/>
<line x1="434.5" y1="702.7" x2="434.5" y2="731.3" stroke="#000000" stroke-width="1" stroke-opacity="0.04"/>
<line x1="511.5" y1="607.3" x2="511.5" y2="631.7" stroke="#000000" stroke-width="1" stroke-opacity="0.04"/>
<line x1="511.5" y1="643" x2="511.5" y2="666.7" stroke="#000000" stroke-width="1" stroke-opacity="0.04"/>
<line x1="511.5" y1="671" x2="511.5" y2="693.7" stroke="#000000" stroke-width="1" stroke-opacity="0.04"/>
<line x1="511.5" y1="702.7" x2="511.5" y2="731.3" stroke="#000000" stroke-width="1" stroke-opacity="0.04"/>
<line x1="591.5" y1="607.3" x2="591.5" y2="631.7" stroke="#000000" stroke-width="1" stroke-opacity="0.04"/>
<line x1="591.5" y1="643" x2="591.5" y2="666.7" stroke="#000000" stroke-width="1" stroke-opacity="0.04"/>
<line x1="591.5" y1="671" x2="591.5" y2="693.7" stroke="#000000" stroke-width="1" stroke-opacity="0.04"/>
<line x1="591.5" y1="702.7" x2="591.5" y2="731.3" stroke="#000000" stroke-width="1" stroke-opacity="0.04"/>
<line x1="667.5" y1="607.3" x2="667.5" y2="631.7" stroke="#000000" stroke-width="1" stroke-opacity="0.04"/>
<line x1="667.5" y1="643" x2="667.5" y2="666.7" stroke="#000000" stroke-width="1" stroke-opacity="0.04"/>
<line x1="667.5" y1="671" x2="667.5" y2="693.7" stroke="#000000" stroke-width="1" stroke-opacity="0.04"/>
<line x1="667.5" y1="702.7" x2="667.5" y2="731.3" stroke="#000000" stroke-width="1" stroke-opacity="0.04"/>
<line x1="746.5" y1="607.3" x2="746.5" y2="631.7" stroke="#000000" stroke-width="1" stroke-opacity="0.04"/>
<line x1="746.5" y1="643" x2="746.5" y2="666.7" stroke="#000000" stroke-width="1" stroke-opacity="0.04"/>
<line x1="746.5" y1="671" x2="746.5" y2="693.7" stroke="#000000" stroke-width="1" stroke-opacity="0.04"/>
<line x1="746.5" y1="702.7" x2="746.5" y2="731.3" stroke="#000000" stroke-width="1" stroke-opacity="0.04"/>
<line x1="826.5" y1="607.3" x2="826.5" y2="631.7" stroke="#000000" stroke-width="1" stroke-opacity="0.04"/>
<line x1="826.5" y1="643" x2="826.5" y2="666.7" stroke="#000000" stroke-width="1" stroke-opacity="0.04"/>
<line x1="826.5" y1="671" x2="826.5" y2="693.7" stroke="#000000" stroke-width="1" stroke-opacity="0.04"/>
<line x1="826.5" y1="702.7" x2="826.5" y2="731.3" stroke="#000000" stroke-width="1" stroke-opacity="0.04"/>
<line x1="914.5" y1="607.3" x2="914.5" y2="631.7" stroke="#000000" stroke-width="1" stroke-opacity="0.04"/>
<line x1="914.5" y1="643" x2="914.5" y2="666.7" stroke="#000000" stroke-width="1" stroke-opacity="0.04"/>
<line x1="914.5" y1="671" x2="914.5" y2="693.7" stroke="#000000" stroke-width="1" stroke-opacity="0.04"/>
<line x1="914.5" y1="702.7" x2="914.5" y2="731.3" stroke="#000000" stroke-width="1" stroke-opacity="0.04"/>
<line x1="993.5" y1="607.3" x2="993.5" y2="631.7" stroke="#000000" stroke-width="1" stroke-opacity="0.04"/>
<line x1="993.5" y1="643" x2="993.5" y2="666.7" stroke="#000000" stroke-width="1" stroke-opacity="0.04"/>
<line x1="993.5" y1="671" x2="993.5" y2="693.7" stroke="#000000" stroke-width="1" stroke-opacity="0.04"/>
<line x1="993.5" y1="702.7" x2="993.5" y2="731.3" stroke="#000000" stroke-width="1" stroke-opacity="0.04"/>
<line x1="1077.5" y1="607.3" x2="1077.5" y2="631.7" stroke="#000000" stroke-width="1" stroke-opacity="0.04"/>
<line x1="1077.5" y1="643" x2="1077.5" y2="666.7" stroke="#000000" stroke-width="1" stroke-opacity="0.04"/>
<line x1="1077.5" y1="671" x2="1077.5" y2="693.7" stroke="#000000" stroke-width="1" stroke-opacity="0.04"/>
<line x1="1077.5" y1="702.7" x2="1077.5" y2="731.3" stroke="#000000" stroke-width="1" stroke-opacity="0.04"/>
<line x1="1164.5" y1="607.3" x2="1164.5" y2="631.7" stroke="#000000" stroke-width="1" stroke-opacity="0.04"/>
<line x1="1164.5" y1="643" x2="1164.5" y2="666.7" stroke="#000000" stroke-width="1" stroke-opacity="0.04"/>
<line x1="1164.5" y1="671" x2="1164.5" y2="693.7" stroke="#000000" stroke-width="1" stroke-opacity="0.04"/>
<line x1="1164.5" y1="702.7" x2="1164.5" y2="731.3" stroke="#000000" stroke-width="1" stroke-opacity="0.04"/>
<line x1="1240.5" y1="607.3" x2="1240.5" y2="631.7" stroke="#000000" stroke-width="1" stroke-opacity="0.04"/>
<line x1="1240.5" y1="643" x2="1240.5" y2="666.7" stroke="#000000" stroke-width="1" stroke-opacity="0.04"/>
<line x1="1240.5" y1="671" x2="1240.5" y2="693.7" stroke="#000000" stroke-width="1" stroke-opacity="0.04"/>
<line x1="1240.5" y1="702.7" x2="1240.5" y2="731.3" stroke="#000000" stroke-width="1" stroke-opacity="0.04"/>
<line x1="1313.5" y1="607.3" x2="1313.5" y2="631.7" stroke="#000000" stroke-width="1" stroke-opacity="0.04"/>
<line x1="1313.5" y1="643" x2="1313.5" y2="666.7" stroke="#000000" stroke-width="1" stroke-opacity="0.04"/>
<line x1="1313.5" y1="671" x2="1313.5" y2="693.7" stroke="#000000" stroke-width="1" stroke-opacity="0.04"/>
<line x1="1313.5" y1="702.7" x2="1313.5" y2="731.3" stroke="#000000" stroke-width="1" stroke-opacity="0.04"/>
<line x1="1396.5" y1="607.3" x2="1396.5" y2="631.7" stroke="#000000" stroke-width="1" stroke-opacity="0.04"/>
<line x1="1396.5" y1="643" x2="1396.5" y2="666.7" stroke="#000000" stroke-width="1" stroke-opacity="0.04"/>
<line x1="1396.5" y1="671" x2="1396.5" y2="693.7" stroke="#000000" stroke-width="1" stroke-opacity="0.04"/>
<line x1="1396.5" y1="702.7" x2="1396.5" y2="731.3" stroke="#000000" stroke-width="1" stroke-opacity="0.04"/>
<line x1="10" y1="642.5" x2="1450" y2="642.5" stroke="#787b86" stroke-width="1" stroke-opacity="0.8" stroke-dasharray="6,5"/>
<line x1="10" y1="700.5" x2="1450" y2="700.5" stroke="#787b86" stroke-width="1" stroke-opacity="0.8" stroke-dasharray="6,5"/>
<line x1="36" y1="625.2" x2="108.4" y2="626.7" stroke="#3f72d8" stroke-width="2"/>
<line x1="111.6" y1="619.7" x2="165" y2="630.9" stroke="#3f72d8" stroke-width="2"/>
<line x1="168.7" y1="630.4" x2="191" y2="645.3" stroke="#3f72d8" stroke-width="2"/>
<line x1="58.3" y1="686" x2="115.8" y2="650.7" stroke="#3f72d8" stroke-width="2"/>
<line x1="510.7" y1="616.5" x2="535" y2="627.7" stroke="#3f72d8" stroke-width="2"/>
<line x1="712.4" y1="622.7" x2="768" y2="634.3" stroke="#3f72d8" stroke-width="2"/>
<line x1="681.4" y1="644.5" x2="724.3" y2="655.2" stroke="#3f72d8" stroke-width="2"/>
<line x1="988.7" y1="712" x2="1047.7" y2="706" stroke="#6a6fd8" stroke-width="3" stroke-linecap="round"/>
<text x="37" y="638.4" font-size="10.5" fill="#3f72d8" font-weight="bold" textLength="67" lengthAdjust="spacingAndGlyphs">korrekciós div.</text>
<text x="95.5" y="612.6" font-size="10.5" fill="#3f72d8" font-weight="bold" textLength="93" lengthAdjust="spacingAndGlyphs" transform="rotate(13 95.5 608.8)">Bearish divergencia</text>
<text x="157.5" y="618.8" font-size="10.5" fill="#3f72d8" font-weight="bold" textLength="62" lengthAdjust="spacingAndGlyphs" transform="rotate(33 157.5 615)">Bearish konv.</text>
<text x="57.5" y="700.8" font-size="10.5" fill="#3f72d8" font-weight="bold" textLength="75" lengthAdjust="spacingAndGlyphs" transform="rotate(-31 57.5 697)">konvergencia sc</text>
<text x="696" y="614.3" font-size="10.5" fill="#3f72d8" font-weight="bold" textLength="90" lengthAdjust="spacingAndGlyphs" transform="rotate(12.5 696 610.5)">Bearish divergencia</text>
<text x="653" y="652.3" font-size="10.5" fill="#3f72d8" font-weight="bold" textLength="95" lengthAdjust="spacingAndGlyphs" transform="rotate(15 653 648.5)">Hidden Bullish div.</text>
<path d="M9.9,670.6C12.4,670 19.8,667.9 24.8,666.9C29.8,665.8 34.7,664.6 39.7,664.4C44.6,664.2 49.6,665.4 54.6,665.6C59.5,665.8 64.5,666 69.5,665.6C74.4,665.2 79.4,664.2 84.3,663.1C89.3,662.1 94.3,660.7 99.2,659.4C104.2,658.2 109.1,656.8 114.1,655.7C119.1,654.5 124,653.3 129,652.5C133.9,651.6 138.9,651.2 143.9,650.7C148.8,650.2 153.8,649.6 158.7,649.5C163.7,649.4 168.7,649.8 173.6,650C178.6,650.2 183.6,650.4 188.5,650.7C193.5,651.1 198.4,651.7 203.4,652C208.4,652.3 213.3,652.1 218.3,652.5C223.2,652.9 228.2,653.7 233.2,654.5C238.1,655.2 243.1,656.2 248,656.9C253,657.6 258,658.3 262.9,658.7C267.9,659.1 272.8,659.6 277.8,659.4C282.8,659.2 287.7,658 292.7,657.4C297.7,656.8 302.6,656.2 307.6,655.7C312.5,655.2 317.5,654.5 322.5,654.5C327.4,654.4 332.4,655.1 337.3,655.2C342.3,655.3 347.3,655.5 352.2,655.2C357.2,654.9 362.5,653.7 367.1,653.2C371.7,652.7 375.8,652.8 380,652C384.2,651.1 388.3,649.7 392.4,648.3C396.5,646.8 400.7,644.8 404.8,643.3C408.9,641.8 413.1,640.4 417.2,639.1C421.3,637.8 425.5,635.9 429.6,635.4C433.7,634.8 437.9,635.8 442,635.8C446.1,635.9 450.3,636.1 454.4,635.8C458.5,635.6 462.7,635.1 466.8,634.6C470.9,634.1 475.1,633.4 479.2,632.6C483.4,631.9 487.5,630.8 491.6,630.1C495.8,629.4 499.9,628.8 504,628.4C508.2,628 512.3,627.8 516.4,627.7C520.6,627.5 524.7,627.3 528.8,627.7C533,628 537.1,628.9 541.2,629.6C545.4,630.4 549.5,631.1 553.6,632.1C557.8,633.2 561.9,634.4 566,635.8C570.2,637.3 574.3,639.4 578.4,640.8C582.6,642.3 586.7,642.9 590.8,644.5C595,646.2 599.1,648.5 603.2,650.7C607.4,653 611.5,656 615.6,658.2C619.8,660.4 623.9,662.4 628,663.9C632.2,665.3 636.3,666 640.4,666.9C644.6,667.7 648.7,668.4 652.8,668.8C657,669.3 661.1,669.3 665.2,669.3C669.4,669.3 673.5,669.3 677.7,668.8C681.8,668.3 685.9,667.1 690.1,666.4C694.2,665.6 698.3,665 702.5,664.4C706.6,663.7 710.7,663.1 714.9,662.4C719,661.6 723.1,660.7 727.3,659.9C731.4,659.1 736.4,658.1 739.7,657.4C743,656.7 744.6,656.6 747.1,655.7C749.6,654.8 752.4,652.8 754.5,652C756.7,651.1 757.9,651.8 760,650.7C762.1,649.7 764.5,646.8 767.4,645.8C770.3,644.7 773.6,644.6 777.4,644.5C781.1,644.4 785.2,644.8 789.8,645.3C794.3,645.8 799.7,646.8 804.6,647.5C809.6,648.2 814.6,648.7 819.5,649.5C824.5,650.2 829.5,651.4 834.4,652C839.4,652.6 844.3,652.5 849.3,653.2C854.3,654 859.2,655.7 864.2,656.4C869.1,657.2 874.1,657.3 879.1,657.7C884,658.1 889,658.2 893.9,658.9C898.9,659.6 903.9,660.9 908.8,661.9C913.8,662.9 918.7,664.4 923.7,664.9C928.7,665.4 933.6,665.3 938.6,664.9C943.6,664.5 948.9,663.1 953.5,662.4C958,661.7 961.7,660.9 965.9,660.7C970,660.4 973.7,660.2 978.3,660.7C982.8,661.1 988.2,662 993.2,663.1C998.1,664.2 1003.1,666.2 1008,667.3C1013,668.5 1018,669 1022.9,669.8C1027.9,670.7 1032.8,671.6 1037.8,672.3C1042.8,673 1047.7,673.5 1052.7,673.8C1057.7,674.1 1062.6,674.6 1067.6,674.3C1072.5,674 1077.5,672.6 1082.5,671.8C1087.4,671 1092.4,669.8 1097.3,669.3C1102.3,668.8 1107.4,668.8 1112.2,668.8C1117.1,668.8 1124,669.3 1126.4,669.3" fill="none" stroke="#2f5fd6" stroke-width="2.2" stroke-linejoin="round" stroke-linecap="round" />
<path d="M9.9,660.7C11.2,659 14.9,653.6 17.4,650.7C19.8,647.8 22.3,645.2 24.8,643.3C27.3,641.3 30.2,640 32.2,639.1C34.3,638.1 35.1,637.3 37.2,637.6C39.3,637.9 42.2,638.8 44.6,640.8C47.1,642.8 49.6,646.4 52.1,649.5C54.6,652.6 57,656.9 59.5,659.4C62,661.9 64.5,663.3 67,664.4C69.5,665.4 71.9,665.6 74.4,665.6C76.9,665.6 79.4,665.4 81.9,664.4C84.3,663.3 86.8,661.3 89.3,659.4C91.8,657.6 94.3,655.1 96.7,653.2C99.2,651.4 101.7,649.6 104.2,648.3C106.7,646.9 109.1,645.7 111.6,645.3C114.1,644.9 116.6,645.5 119.1,645.8C121.5,646.1 124,646.5 126.5,647C129,647.5 131.5,648.5 133.9,649C136.4,649.5 138.9,649.9 141.4,650C143.9,650.1 146.3,650 148.8,649.5C151.3,649 153.8,647.9 156.3,647C158.7,646.1 161.2,644.7 163.7,644C166.2,643.3 168.7,642.8 171.1,642.8C173.6,642.8 176.1,643.4 178.6,644C181.1,644.7 183.6,645.4 186,646.5C188.5,647.6 191,649 193.5,650.7C196,652.5 198.4,655.1 200.9,656.9C203.4,658.8 205.9,660.2 208.4,661.9C210.8,663.5 213.3,665.4 215.8,666.9C218.3,668.3 220.8,669.7 223.2,670.6C225.7,671.4 228.2,671.8 230.7,671.8C233.2,671.8 235.6,670.8 238.1,670.6C240.6,670.4 243.1,670.4 245.6,670.6C248,670.8 250.5,671.4 253,671.8C255.5,672.2 258,673.5 260.4,673.1C262.9,672.6 265.4,670.4 267.9,669.3C270.4,668.3 272.8,668.5 275.3,666.9C277.8,665.2 280.3,662.3 282.8,659.4C285.2,656.5 287.7,652.8 290.2,649.5C292.7,646.2 295.2,642.7 297.7,639.6C300.1,636.5 302.6,633.4 305.1,630.9C307.6,628.4 310.1,625.8 312.5,624.7C315,623.6 317.5,623.6 320,624.2C322.5,624.8 324.9,626.1 327.4,628.4C329.9,630.8 332.4,634.8 334.9,638.3C337.3,641.8 339.8,646.2 342.3,649.5C344.8,652.8 347.3,656 349.7,658.2C352.2,660.3 354.7,661.7 357.2,662.4C359.7,663.1 362.1,663.1 364.6,662.4C367.1,661.7 369.5,659.7 372.1,658.2C374.6,656.6 377.4,655.2 380,653.2C382.6,651.3 385,648.4 387.4,646.5C389.9,644.7 392.4,643.8 394.9,642C397.4,640.3 399.8,638.5 402.3,635.8C404.8,633.2 407.3,628.6 409.8,625.9C412.2,623.2 414.7,621.8 417.2,619.7C419.7,617.7 422.4,614.8 424.6,613.5C426.9,612.2 428.8,611.4 430.8,611.8C432.9,612.2 434.8,614.7 437,616C439.3,617.3 442,618.8 444.5,619.7C447,620.7 449.5,621.1 451.9,621.7C454.4,622.3 457.3,623.2 459.4,623.4C461.4,623.7 462.5,624.1 464.3,623.4C466.2,622.7 468.5,620.6 470.5,619.2C472.6,617.9 474.5,615.2 476.7,615.3C479,615.3 481.7,618.2 484.2,619.7C486.7,621.3 489.1,623 491.6,624.7C494.1,626.3 496.6,627.8 499.1,629.6C501.5,631.5 504,634.4 506.5,635.8C509,637.3 511.5,637.5 513.9,638.3C516.4,639.2 518.9,639.8 521.4,640.8C523.9,641.8 526.3,642.9 528.8,644.5C531.3,646.2 533.8,649 536.3,650.7C538.7,652.5 541.2,654.3 543.7,654.9C546.2,655.6 548.7,654.1 551.1,654.5C553.6,654.8 556.1,656.4 558.6,656.9C561.1,657.4 563.6,657.8 566,657.4C568.5,657.1 571.4,655 573.5,654.9C575.5,654.9 576.4,655.4 578.4,656.9C580.5,658.4 583.4,661.8 585.9,663.9C588.4,665.9 590.8,667 593.3,669.3C595.8,671.7 598.3,674.7 600.8,678C603.2,681.3 605.7,686.2 608.2,689.2C610.7,692.2 613.2,694.5 615.6,696.1C618.1,697.8 620.8,698.5 623.1,699.1C625.4,699.7 627.2,700.4 629.3,699.6C631.3,698.8 633.2,696.7 635.5,694.1C637.8,691.6 640.4,687.7 642.9,684.2C645.4,680.7 647.9,676.2 650.4,673.1C652.8,670 655.3,667.9 657.8,665.6C660.3,663.3 662.8,661.9 665.2,659.4C667.7,656.9 670.2,653.2 672.7,650.7C675.2,648.3 677.7,646.4 680.1,644.5C682.6,642.7 685.1,641 687.6,639.6C690.1,638.1 692.5,636.7 695,635.8C697.5,635 700,635.2 702.5,634.6C704.9,634 707.6,632.9 709.9,632.1C712.2,631.4 714,630.2 716.1,630.1C718.2,630.1 720,631.2 722.3,631.6C724.6,632 727.3,632.1 729.7,632.6C732.2,633.1 734.7,633.7 737.2,634.6C739.7,635.6 742.1,637.1 744.6,638.3C747.1,639.6 749.5,641.6 752.1,642C754.6,642.5 757.4,640.4 760,640.8C762.6,641.2 765,643.3 767.4,644.5C769.9,645.8 772.4,646.4 774.9,648.3C777.4,650.1 779.8,652.8 782.3,655.7C784.8,658.6 787.3,662.5 789.8,665.6C792.2,668.7 794.7,672.1 797.2,674.3C799.7,676.5 802.2,678 804.6,678.8C807.1,679.5 809.6,679.4 812.1,678.8C814.6,678.1 817,676.2 819.5,674.8C822,673.4 824.5,672.1 827,670.6C829.5,669 831.9,667.3 834.4,665.6C836.9,664 839.4,662.3 841.9,660.7C844.3,659 846.8,656.8 849.3,655.7C851.8,654.6 854.3,654.4 856.7,654C859.2,653.5 861.7,653.3 864.2,653.2C866.7,653.1 869.1,653 871.6,653.2C874.1,653.4 876.6,653.7 879.1,654.5C881.5,655.2 884,656.7 886.5,657.4C889,658.2 891.5,658.6 893.9,658.9C896.4,659.2 898.9,658.9 901.4,659.4C903.9,659.9 906.3,660.7 908.8,661.9C911.3,663.1 913.8,665.3 916.3,666.9C918.7,668.4 921.2,670.6 923.7,671.3C926.2,672.1 928.9,671.4 931.1,671.3C933.4,671.2 935.5,670.5 937.3,670.6C939.2,670.7 940.5,672.4 942.3,671.8C944.2,671.2 946.2,668.5 948.5,666.9C950.8,665.2 953.5,663.1 956,661.9C958.4,660.7 960.9,660.4 963.4,659.9C965.9,659.4 968.4,659 970.8,658.7C973.3,658.4 975.8,657.6 978.3,658.2C980.8,658.7 983.2,660 985.7,661.9C988.2,663.8 990.7,666.9 993.2,669.3C995.6,671.8 998.1,674.7 1000.6,676.8C1003.1,678.8 1005.6,680.4 1008,681.7C1010.5,683.1 1013,684.1 1015.5,684.7C1018,685.3 1020.4,685.3 1022.9,685.5C1025.4,685.6 1027.9,685.9 1030.4,685.5C1032.8,685 1035.3,683.2 1037.8,683C1040.3,682.8 1042.8,684.1 1045.2,684.2C1047.7,684.3 1050.2,684.1 1052.7,683.7C1055.2,683.4 1057.7,682.8 1060.1,682.2C1062.6,681.7 1065.1,681.8 1067.6,680.5C1070.1,679.2 1072.5,676.8 1075,674.3C1077.5,671.8 1080,668.7 1082.5,665.6C1084.9,662.5 1087.4,658.9 1089.9,655.7C1092.4,652.5 1095.1,648.8 1097.3,646.5C1099.6,644.2 1101.7,642.9 1103.5,642C1105.4,641.2 1106.6,641.1 1108.5,641.6C1110.4,642 1112.6,643.1 1114.7,644.5C1116.8,645.9 1119,648.2 1120.9,650C1122.8,651.8 1125.4,654.3 1126.4,655.2" fill="none" stroke="#f0524f" stroke-width="2.2" stroke-linejoin="round" stroke-linecap="round" />
<polyline points="9.9,645.8 13.6,641.6 17.4,643.3 22.3,638.3 27.3,629.6 36,629.2 39.7,644.5 43.4,658.2 47.1,659.4 50.8,678.8 54.6,668.8 58.8,680 63.3,674.3 67,663.1 70.7,654 74.4,658.2 78.1,653.2 81.9,652 85.6,642 88.6,658.9 93,652 97.5,645.8 101.7,651.5 104.2,638.3 107.9,629.6 111.6,642 115.3,647.5 119.1,650 122,658.9 126.5,654.5 130.2,655.7 135.2,658.2 138.9,649 142.6,651.5 146.3,640.8 150.1,637.6 153.8,640.8 157.5,644.5 161.2,635.8 164.5,633.4 168.7,649.5 172.4,651.5 176.6,655.7 181.1,652 184.8,651.5 188.5,647 193.5,653.2 197.2,671.8 199.2,681.7 202.2,669.3 205.9,673.1 210.8,668.8 214.6,681.2 218.3,663.1 222,668.1 226.2,658.7 229.4,678.8 234.4,680.5 238.1,668.1 241.8,670.6 245.6,671.8 249.3,677.3 253,680 256.7,670.6 260.4,660.7 264.2,658.2 267.9,664.4 272.8,666.9 277.8,649.5 282.8,635.8 287.7,630.9 291.4,623.4 295.2,621 298.9,621.7 302.6,624.7 306.3,625.4 310.1,623.4 313,622.2 316.3,624.7 320,632.1 323.7,638.3 328.7,640.8 331.9,664.4 336.1,670.6 339.8,673.1 343.5,664.4 347.3,665.6 350.2,660.7 354.7,669.3 358.4,650.7 362.6,643.3 367.1,645 370.8,652 374.5,654.5 378.3,660.7 380,656.9 383.7,643.3 386.2,635.8 389.9,630.9 393.6,623.4 397.4,619.7 401.1,618.5 404.8,612.3 407.8,608.1 411.5,609.3 416,621 419.7,616 423.4,611 427.1,607.8 430.8,607.8 434.6,634.6 438.3,632.1 442,629.2 445.7,618.5 449.9,627.7 453.2,624.2 457.4,619.7 461.4,616.7 465.1,606.1 468.8,613.5 473,607.3 476.7,606.8 480.5,633.4 484.2,642 487.2,643.8 491.6,638.3 495.3,639.1 499.1,627.2 502.8,642 507,642 510.7,624.7 515.2,661.9 518.4,644.5 521.9,635.8 526.3,652 530.1,661.9 533.8,669.3 538,660.7 541.2,663.9 544.9,654.5 548.7,650 552.4,645.3 556.6,648.3 560.3,656.9 564.8,661.4 568.5,661.9 572.2,655.7 576,664.4 579.7,670.6 583.4,678 587.1,684.7 590.8,671.8 594.6,675.5 598.3,691.7 602,709 605.7,721.4 610.2,707 613.9,714 617.6,692.2 620.6,694.1 624.3,683 628,676.8 631.8,674.8 635.5,676.3 639.2,674.3 642.9,661.9 646.6,659.4 650.4,656.9 654.1,654.9 657.8,653.2 662.8,648.3 666.5,638.3 670.2,634.6 673.9,637.1 677.7,642.5 681.4,638.3 685.6,634.6 689.6,633.4 693,631.6 697,636.6 701.2,633.4 704.9,631.6 708.7,627.7 712.4,623.4 716.1,624.7 719.8,632.1 723.5,648.3 727.3,638.3 730.2,632.9 734.7,640.8 738.4,645.8 742.6,644 747.1,647.5 750.8,640.8 754.5,637.1 758.3,635.8 760,636.6 762.5,637.1 765.5,645.8 768.7,655.7 772.4,658.2 776.1,668.1 780.3,678 784.3,670.6 788,680.5 791.7,686.7 795.5,694.1 799.2,679.3 803.4,683 807.1,666.9 810.8,671.8 815.1,665.6 818.8,652.5 822.5,656.9 825.7,666.9 829.9,663.1 833.9,658.2 838.1,664.4 841.9,654.5 845.6,647 849.3,638.3 853,643.3 856.7,652 860.5,658.2 864.2,663.1 867.9,664.4 871.6,650.7 875.3,653.2 879.1,653.2 882.8,666.9 886.5,658.2 890.2,656.9 893.9,659.4 898.9,671.8 902.6,660.7 906.3,660.7 910.1,669.3 913.8,692.9 917.5,680.5 921.2,674.3 924.9,670.6 928.7,661.4 932.4,662.4 936.1,664.9 939.8,668.1 943.6,660.7 947.3,653.7 951,654.5 954.7,656.9 958.4,652.5 962.2,660.7 965.9,660.2 970.8,656.9 974.6,664.4 978.3,670.6 982,675.5 985.7,676.3 989.4,683 993.2,674.3 996.4,699.6 1000.6,691.7 1005.1,683 1008.8,689.2 1011.8,678 1015.5,681.2 1019.2,684.7 1022.9,681.2 1026.6,681 1030.4,678 1034.1,697.1 1039,695.4 1042.8,676.3 1046.5,677.3 1050.2,683 1053.9,679.3 1057.7,674.8 1061.4,681.7 1065.1,670.6 1068.8,669.3 1072.5,663.1 1076.3,650.7 1080.7,636.6 1084.9,639.6 1091.1,639.1 1094.9,630.1 1099.8,629.6 1103.5,656.9 1107.3,650.7 1111,658.2 1114.7,661.9 1118.9,658.2 1122.6,681.7 1126.4,660.7" fill="none" stroke="#9c27b0" stroke-width="2.2" stroke-linejoin="round" stroke-linecap="round" />
</g>
<g clip-path="url(#cd)">
<rect x="12.3" y="797.9" width="2.4" height="9.6" fill="#26a69a"/>
<rect x="16.3" y="798.4" width="2.4" height="9.1" fill="#b2dfdb"/>
<rect x="19.3" y="799.4" width="2.4" height="8.1" fill="#b2dfdb"/>
<rect x="23.3" y="799.7" width="2.4" height="7.8" fill="#b2dfdb"/>
<rect x="27.3" y="799.3" width="2.4" height="8.2" fill="#26a69a"/>
<rect x="31.3" y="799.7" width="2.4" height="7.8" fill="#b2dfdb"/>
<rect x="35.3" y="799.8" width="2.4" height="7.7" fill="#b2dfdb"/>
<rect x="38.3" y="802.5" width="2.4" height="5" fill="#b2dfdb"/>
<rect x="42.3" y="805.4" width="2.4" height="2.1" fill="#b2dfdb"/>
<rect x="46.3" y="807.5" width="2.4" height="0.6" fill="#ef5350"/>
<rect x="50.3" y="807.5" width="2.4" height="2.2" fill="#ef5350"/>
<rect x="54.3" y="807.5" width="2.4" height="3.4" fill="#ef5350"/>
<rect x="57.3" y="807.5" width="2.4" height="4.4" fill="#ef5350"/>
<rect x="61.3" y="807.5" width="2.4" height="5.4" fill="#ef5350"/>
<rect x="65.3" y="807.5" width="2.4" height="3.9" fill="#fccbcd"/>
<rect x="69.3" y="807.5" width="2.4" height="2.4" fill="#fccbcd"/>
<rect x="73.3" y="807.5" width="2.4" height="1" fill="#fccbcd"/>
<rect x="76.3" y="807.5" width="2.4" height="0.6" fill="#fccbcd"/>
<rect x="80.3" y="806.3" width="2.4" height="1.2" fill="#26a69a"/>
<rect x="84.3" y="805.5" width="2.4" height="2" fill="#26a69a"/>
<rect x="88.3" y="805.8" width="2.4" height="1.7" fill="#b2dfdb"/>
<rect x="92.3" y="805.8" width="2.4" height="1.7" fill="#b2dfdb"/>
<rect x="95.3" y="805.2" width="2.4" height="2.3" fill="#26a69a"/>
<rect x="99.3" y="804.4" width="2.4" height="3.1" fill="#26a69a"/>
<rect x="103.3" y="802.3" width="2.4" height="5.2" fill="#26a69a"/>
<rect x="107.3" y="801.6" width="2.4" height="5.9" fill="#26a69a"/>
<rect x="111.3" y="801.4" width="2.4" height="6.1" fill="#26a69a"/>
<rect x="114.3" y="802.5" width="2.4" height="5" fill="#b2dfdb"/>
<rect x="118.3" y="804.6" width="2.4" height="2.9" fill="#b2dfdb"/>
<rect x="122.3" y="806.7" width="2.4" height="0.8" fill="#b2dfdb"/>
<rect x="126.3" y="807.5" width="2.4" height="0.6" fill="#ef5350"/>
<rect x="130.3" y="807.5" width="2.4" height="0.6" fill="#ef5350"/>
<rect x="133.3" y="807.5" width="2.4" height="0.7" fill="#ef5350"/>
<rect x="137.3" y="807.5" width="2.4" height="0.6" fill="#fccbcd"/>
<rect x="141.3" y="807.5" width="2.4" height="0.6" fill="#fccbcd"/>
<rect x="145.3" y="807.2" width="2.4" height="0.6" fill="#26a69a"/>
<rect x="149.3" y="806.5" width="2.4" height="1" fill="#26a69a"/>
<rect x="152.3" y="806.3" width="2.4" height="1.2" fill="#26a69a"/>
<rect x="156.3" y="806.4" width="2.4" height="1.1" fill="#b2dfdb"/>
<rect x="160.3" y="806.1" width="2.4" height="1.4" fill="#26a69a"/>
<rect x="164.3" y="805.4" width="2.4" height="2.1" fill="#26a69a"/>
<rect x="168.3" y="806.7" width="2.4" height="0.8" fill="#b2dfdb"/>
<rect x="171.3" y="807.5" width="2.4" height="0.6" fill="#ef5350"/>
<rect x="175.3" y="807.5" width="2.4" height="1.6" fill="#ef5350"/>
<rect x="179.3" y="807.5" width="2.4" height="2.2" fill="#ef5350"/>
<rect x="183.3" y="807.5" width="2.4" height="2.2" fill="#ef5350"/>
<rect x="187.3" y="807.5" width="2.4" height="2.3" fill="#ef5350"/>
<rect x="190.3" y="807.5" width="2.4" height="2.4" fill="#ef5350"/>
<rect x="194.3" y="807.5" width="2.4" height="3.6" fill="#ef5350"/>
<rect x="198.3" y="807.5" width="2.4" height="5.1" fill="#ef5350"/>
<rect x="202.3" y="807.5" width="2.4" height="5.5" fill="#ef5350"/>
<rect x="206.3" y="807.5" width="2.4" height="5.7" fill="#ef5350"/>
<rect x="209.3" y="807.5" width="2.4" height="5.9" fill="#ef5350"/>
<rect x="213.3" y="807.5" width="2.4" height="5.6" fill="#fccbcd"/>
<rect x="217.3" y="807.5" width="2.4" height="4.5" fill="#fccbcd"/>
<rect x="221.3" y="807.5" width="2.4" height="3.3" fill="#fccbcd"/>
<rect x="225.3" y="807.5" width="2.4" height="2.1" fill="#fccbcd"/>
<rect x="228.3" y="807.5" width="2.4" height="3.7" fill="#ef5350"/>
<rect x="232.3" y="807.5" width="2.4" height="3.9" fill="#ef5350"/>
<rect x="236.3" y="807.5" width="2.4" height="3.8" fill="#fccbcd"/>
<rect x="240.3" y="807.5" width="2.4" height="3.1" fill="#fccbcd"/>
<rect x="244.3" y="807.5" width="2.4" height="2.3" fill="#fccbcd"/>
<rect x="247.3" y="807.5" width="2.4" height="2.6" fill="#ef5350"/>
<rect x="251.3" y="807.5" width="2.4" height="3.1" fill="#ef5350"/>
<rect x="255.3" y="807.5" width="2.4" height="1.4" fill="#fccbcd"/>
<rect x="259.3" y="807" width="2.4" height="0.6" fill="#26a69a"/>
<rect x="263.3" y="806.4" width="2.4" height="1.1" fill="#26a69a"/>
<rect x="266.3" y="806" width="2.4" height="1.5" fill="#26a69a"/>
<rect x="270.3" y="805.3" width="2.4" height="2.2" fill="#26a69a"/>
<rect x="274.3" y="804.7" width="2.4" height="2.8" fill="#26a69a"/>
<rect x="278.3" y="803.6" width="2.4" height="3.9" fill="#26a69a"/>
<rect x="282.3" y="801.8" width="2.4" height="5.7" fill="#26a69a"/>
<rect x="285.3" y="799.9" width="2.4" height="7.6" fill="#26a69a"/>
<rect x="289.3" y="797.3" width="2.4" height="10.2" fill="#26a69a"/>
<rect x="293.3" y="795.1" width="2.4" height="12.4" fill="#26a69a"/>
<rect x="297.3" y="795.5" width="2.4" height="12" fill="#b2dfdb"/>
<rect x="301.3" y="796.5" width="2.4" height="11" fill="#b2dfdb"/>
<rect x="304.3" y="798.2" width="2.4" height="9.3" fill="#b2dfdb"/>
<rect x="308.3" y="799.3" width="2.4" height="8.2" fill="#b2dfdb"/>
<rect x="312.3" y="800.3" width="2.4" height="7.2" fill="#b2dfdb"/>
<rect x="316.3" y="801.4" width="2.4" height="6.1" fill="#b2dfdb"/>
<rect x="320.3" y="802.9" width="2.4" height="4.6" fill="#b2dfdb"/>
<rect x="323.3" y="805.2" width="2.4" height="2.3" fill="#b2dfdb"/>
<rect x="327.3" y="807.5" width="2.4" height="0.6" fill="#ef5350"/>
<rect x="331.3" y="807.5" width="2.4" height="2.7" fill="#ef5350"/>
<rect x="335.3" y="807.5" width="2.4" height="4.6" fill="#ef5350"/>
<rect x="339.3" y="807.5" width="2.4" height="5.7" fill="#ef5350"/>
<rect x="342.3" y="807.5" width="2.4" height="6.1" fill="#ef5350"/>
<rect x="346.3" y="807.5" width="2.4" height="6.5" fill="#ef5350"/>
<rect x="350.3" y="807.5" width="2.4" height="6.5" fill="#fccbcd"/>
<rect x="354.3" y="807.5" width="2.4" height="6.2" fill="#fccbcd"/>
<rect x="358.3" y="807.5" width="2.4" height="3.8" fill="#fccbcd"/>
<rect x="361.3" y="807.5" width="2.4" height="1.7" fill="#fccbcd"/>
<rect x="365.3" y="807.5" width="2.4" height="0.6" fill="#fccbcd"/>
<rect x="369.3" y="807" width="2.4" height="0.6" fill="#26a69a"/>
<rect x="373.3" y="807.3" width="2.4" height="0.6" fill="#b2dfdb"/>
<rect x="377.3" y="807.5" width="2.4" height="0.8" fill="#ef5350"/>
<rect x="380.3" y="807.5" width="2.4" height="1.2" fill="#ef5350"/>
<rect x="384.3" y="807.5" width="2.4" height="0.6" fill="#fccbcd"/>
<rect x="388.3" y="806" width="2.4" height="1.5" fill="#26a69a"/>
<rect x="392.3" y="804.4" width="2.4" height="3.1" fill="#26a69a"/>
<rect x="396.3" y="803.3" width="2.4" height="4.2" fill="#26a69a"/>
<rect x="399.3" y="802.1" width="2.4" height="5.4" fill="#26a69a"/>
<rect x="403.3" y="800.7" width="2.4" height="6.8" fill="#26a69a"/>
<rect x="407.3" y="800" width="2.4" height="7.5" fill="#26a69a"/>
<rect x="411.3" y="800.6" width="2.4" height="6.9" fill="#b2dfdb"/>
<rect x="415.3" y="801.1" width="2.4" height="6.4" fill="#b2dfdb"/>
<rect x="418.3" y="801.3" width="2.4" height="6.2" fill="#b2dfdb"/>
<rect x="422.3" y="801.1" width="2.4" height="6.4" fill="#26a69a"/>
<rect x="426.3" y="800.6" width="2.4" height="6.9" fill="#26a69a"/>
<rect x="430.3" y="801.4" width="2.4" height="6.1" fill="#b2dfdb"/>
<rect x="434.3" y="803.5" width="2.4" height="4" fill="#b2dfdb"/>
<rect x="437.3" y="805.9" width="2.4" height="1.6" fill="#b2dfdb"/>
<rect x="441.3" y="807.2" width="2.4" height="0.6" fill="#b2dfdb"/>
<rect x="445.3" y="807.5" width="2.4" height="0.6" fill="#ef5350"/>
<rect x="449.3" y="807.5" width="2.4" height="0.6" fill="#fccbcd"/>
<rect x="453.3" y="807.1" width="2.4" height="0.6" fill="#26a69a"/>
<rect x="456.3" y="806.7" width="2.4" height="0.8" fill="#26a69a"/>
<rect x="460.3" y="804.6" width="2.4" height="2.9" fill="#26a69a"/>
<rect x="464.3" y="802.2" width="2.4" height="5.3" fill="#26a69a"/>
<rect x="468.3" y="801.1" width="2.4" height="6.4" fill="#26a69a"/>
<rect x="472.3" y="800.3" width="2.4" height="7.2" fill="#26a69a"/>
<rect x="475.3" y="799.8" width="2.4" height="7.7" fill="#26a69a"/>
<rect x="479.3" y="803.1" width="2.4" height="4.4" fill="#b2dfdb"/>
<rect x="483.3" y="806.6" width="2.4" height="0.9" fill="#b2dfdb"/>
<rect x="487.3" y="807.5" width="2.4" height="1.6" fill="#ef5350"/>
<rect x="491.3" y="807.5" width="2.4" height="2.5" fill="#ef5350"/>
<rect x="494.3" y="807.5" width="2.4" height="2.1" fill="#fccbcd"/>
<rect x="498.3" y="807.5" width="2.4" height="1.8" fill="#fccbcd"/>
<rect x="502.3" y="807.5" width="2.4" height="2.5" fill="#ef5350"/>
<rect x="506.3" y="807.5" width="2.4" height="1.7" fill="#fccbcd"/>
<rect x="510.3" y="807.5" width="2.4" height="0.6" fill="#fccbcd"/>
<rect x="513.3" y="807.5" width="2.4" height="4.3" fill="#ef5350"/>
<rect x="517.3" y="807.5" width="2.4" height="2.4" fill="#fccbcd"/>
<rect x="521.3" y="807.5" width="2.4" height="0.6" fill="#fccbcd"/>
<rect x="525.3" y="806.9" width="2.4" height="0.6" fill="#26a69a"/>
<rect x="529.3" y="807.5" width="2.4" height="1.7" fill="#ef5350"/>
<rect x="532.3" y="807.5" width="2.4" height="4.7" fill="#ef5350"/>
<rect x="536.3" y="807.5" width="2.4" height="6.9" fill="#ef5350"/>
<rect x="540.3" y="807.5" width="2.4" height="8.3" fill="#ef5350"/>
<rect x="544.3" y="807.5" width="2.4" height="6.8" fill="#fccbcd"/>
<rect x="548.3" y="807.5" width="2.4" height="4.4" fill="#fccbcd"/>
<rect x="551.3" y="807.5" width="2.4" height="1.6" fill="#fccbcd"/>
<rect x="555.3" y="807.5" width="2.4" height="0.8" fill="#fccbcd"/>
<rect x="559.3" y="807.5" width="2.4" height="1" fill="#ef5350"/>
<rect x="563.3" y="807.5" width="2.4" height="2.3" fill="#ef5350"/>
<rect x="567.3" y="807.5" width="2.4" height="3.7" fill="#ef5350"/>
<rect x="570.3" y="807.5" width="2.4" height="3.5" fill="#fccbcd"/>
<rect x="574.3" y="807.5" width="2.4" height="3.5" fill="#fccbcd"/>
<rect x="578.3" y="807.5" width="2.4" height="5.6" fill="#ef5350"/>
<rect x="582.3" y="807.5" width="2.4" height="6.9" fill="#ef5350"/>
<rect x="586.3" y="807.5" width="2.4" height="8.3" fill="#ef5350"/>
<rect x="589.3" y="807.5" width="2.4" height="7.7" fill="#fccbcd"/>
<rect x="593.3" y="807.5" width="2.4" height="8.8" fill="#ef5350"/>
<rect x="597.3" y="807.5" width="2.4" height="13" fill="#ef5350"/>
<rect x="601.3" y="807.5" width="2.4" height="20.4" fill="#ef5350"/>
<rect x="605.3" y="807.5" width="2.4" height="27.4" fill="#ef5350"/>
<rect x="608.3" y="807.5" width="2.4" height="28.9" fill="#ef5350"/>
<rect x="612.3" y="807.5" width="2.4" height="28.9" fill="#fccbcd"/>
<rect x="616.3" y="807.5" width="2.4" height="24.3" fill="#fccbcd"/>
<rect x="620.3" y="807.5" width="2.4" height="21.3" fill="#fccbcd"/>
<rect x="624.3" y="807.5" width="2.4" height="14.7" fill="#fccbcd"/>
<rect x="627.3" y="807.5" width="2.4" height="8.7" fill="#fccbcd"/>
<rect x="631.3" y="807.5" width="2.4" height="3.4" fill="#fccbcd"/>
<rect x="635.3" y="806.6" width="2.4" height="0.9" fill="#26a69a"/>
<rect x="639.3" y="802.7" width="2.4" height="4.8" fill="#26a69a"/>
<rect x="643.3" y="796.8" width="2.4" height="10.7" fill="#26a69a"/>
<rect x="646.3" y="792.8" width="2.4" height="14.7" fill="#26a69a"/>
<rect x="650.3" y="789.3" width="2.4" height="18.2" fill="#26a69a"/>
<rect x="654.3" y="787.6" width="2.4" height="19.9" fill="#26a69a"/>
<rect x="658.3" y="786.5" width="2.4" height="21" fill="#26a69a"/>
<rect x="662.3" y="786.5" width="2.4" height="21" fill="#26a69a"/>
<rect x="665.3" y="785.9" width="2.4" height="21.6" fill="#26a69a"/>
<rect x="669.3" y="784.6" width="2.4" height="22.9" fill="#26a69a"/>
<rect x="673.3" y="784.4" width="2.4" height="23.1" fill="#26a69a"/>
<rect x="677.3" y="785.8" width="2.4" height="21.7" fill="#b2dfdb"/>
<rect x="681.3" y="787.5" width="2.4" height="20" fill="#b2dfdb"/>
<rect x="684.3" y="789.5" width="2.4" height="18" fill="#b2dfdb"/>
<rect x="688.3" y="791.5" width="2.4" height="16" fill="#b2dfdb"/>
<rect x="692.3" y="793.5" width="2.4" height="14" fill="#b2dfdb"/>
<rect x="696.3" y="795.5" width="2.4" height="12" fill="#b2dfdb"/>
<rect x="700.3" y="797.5" width="2.4" height="10" fill="#b2dfdb"/>
<rect x="703.3" y="798.7" width="2.4" height="8.8" fill="#b2dfdb"/>
<rect x="707.3" y="799.4" width="2.4" height="8.1" fill="#b2dfdb"/>
<rect x="711.3" y="799.9" width="2.4" height="7.6" fill="#b2dfdb"/>
<rect x="715.3" y="800.4" width="2.4" height="7.1" fill="#b2dfdb"/>
<rect x="719.3" y="802.4" width="2.4" height="5.1" fill="#b2dfdb"/>
<rect x="722.3" y="805.7" width="2.4" height="1.8" fill="#b2dfdb"/>
<rect x="726.3" y="807.5" width="2.4" height="0.6" fill="#ef5350"/>
<rect x="730.3" y="807.5" width="2.4" height="0.7" fill="#ef5350"/>
<rect x="734.3" y="807.5" width="2.4" height="1.5" fill="#ef5350"/>
<rect x="738.3" y="807.5" width="2.4" height="2.5" fill="#ef5350"/>
<rect x="741.3" y="807.5" width="2.4" height="3.4" fill="#ef5350"/>
<rect x="745.3" y="807.5" width="2.4" height="4.3" fill="#ef5350"/>
<rect x="749.3" y="807.5" width="2.4" height="3.9" fill="#fccbcd"/>
<rect x="753.3" y="807.5" width="2.4" height="3.2" fill="#fccbcd"/>
<rect x="757.3" y="807.5" width="2.4" height="2.7" fill="#fccbcd"/>
<rect x="760.3" y="807.5" width="2.4" height="2.2" fill="#fccbcd"/>
<rect x="764.3" y="807.5" width="2.4" height="2.2" fill="#fccbcd"/>
<rect x="768.3" y="807.5" width="2.4" height="3.5" fill="#ef5350"/>
<rect x="772.3" y="807.5" width="2.4" height="4.7" fill="#ef5350"/>
<rect x="776.3" y="807.5" width="2.4" height="6" fill="#ef5350"/>
<rect x="779.3" y="807.5" width="2.4" height="7.3" fill="#ef5350"/>
<rect x="783.3" y="807.5" width="2.4" height="8.3" fill="#ef5350"/>
<rect x="787.3" y="807.5" width="2.4" height="9" fill="#ef5350"/>
<rect x="791.3" y="807.5" width="2.4" height="10.1" fill="#ef5350"/>
<rect x="795.3" y="807.5" width="2.4" height="11.5" fill="#ef5350"/>
<rect x="798.3" y="807.5" width="2.4" height="11" fill="#fccbcd"/>
<rect x="802.3" y="807.5" width="2.4" height="9.6" fill="#fccbcd"/>
<rect x="806.3" y="807.5" width="2.4" height="8.2" fill="#fccbcd"/>
<rect x="810.3" y="807.5" width="2.4" height="6.9" fill="#fccbcd"/>
<rect x="814.3" y="807.5" width="2.4" height="4" fill="#fccbcd"/>
<rect x="817.3" y="807.5" width="2.4" height="1" fill="#fccbcd"/>
<rect x="821.3" y="807" width="2.4" height="0.6" fill="#26a69a"/>
<rect x="825.3" y="807.4" width="2.4" height="0.6" fill="#b2dfdb"/>
<rect x="829.3" y="807.1" width="2.4" height="0.6" fill="#26a69a"/>
<rect x="833.3" y="806.3" width="2.4" height="1.2" fill="#26a69a"/>
<rect x="836.3" y="806.4" width="2.4" height="1.1" fill="#b2dfdb"/>
<rect x="840.3" y="805.8" width="2.4" height="1.7" fill="#26a69a"/>
<rect x="844.3" y="803.9" width="2.4" height="3.6" fill="#26a69a"/>
<rect x="848.3" y="802.2" width="2.4" height="5.3" fill="#26a69a"/>
<rect x="852.3" y="800.4" width="2.4" height="7.1" fill="#26a69a"/>
<rect x="855.3" y="801.1" width="2.4" height="6.4" fill="#b2dfdb"/>
<rect x="859.3" y="802.6" width="2.4" height="4.9" fill="#b2dfdb"/>
<rect x="863.3" y="804.6" width="2.4" height="2.9" fill="#b2dfdb"/>
<rect x="867.3" y="806.3" width="2.4" height="1.2" fill="#b2dfdb"/>
<rect x="871.3" y="806.9" width="2.4" height="0.6" fill="#b2dfdb"/>
<rect x="874.3" y="806.8" width="2.4" height="0.7" fill="#26a69a"/>
<rect x="878.3" y="807.3" width="2.4" height="0.6" fill="#b2dfdb"/>
<rect x="882.3" y="807.5" width="2.4" height="0.6" fill="#ef5350"/>
<rect x="886.3" y="807.5" width="2.4" height="0.7" fill="#ef5350"/>
<rect x="890.3" y="807.5" width="2.4" height="0.7" fill="#ef5350"/>
<rect x="893.3" y="807.5" width="2.4" height="1.1" fill="#ef5350"/>
<rect x="897.3" y="807.5" width="2.4" height="2.3" fill="#ef5350"/>
<rect x="901.3" y="807.5" width="2.4" height="2.2" fill="#fccbcd"/>
<rect x="905.3" y="807.5" width="2.4" height="2.4" fill="#ef5350"/>
<rect x="909.3" y="807.5" width="2.4" height="3.5" fill="#ef5350"/>
<rect x="912.3" y="807.5" width="2.4" height="5.6" fill="#ef5350"/>
<rect x="916.3" y="807.5" width="2.4" height="6.6" fill="#ef5350"/>
<rect x="920.3" y="807.5" width="2.4" height="6.5" fill="#fccbcd"/>
<rect x="924.3" y="807.5" width="2.4" height="5.7" fill="#fccbcd"/>
<rect x="928.3" y="807.5" width="2.4" height="3.7" fill="#fccbcd"/>
<rect x="931.3" y="807.5" width="2.4" height="2.3" fill="#fccbcd"/>
<rect x="935.3" y="807.5" width="2.4" height="1.6" fill="#fccbcd"/>
<rect x="939.3" y="807.5" width="2.4" height="0.9" fill="#fccbcd"/>
<rect x="943.3" y="807.5" width="2.4" height="0.6" fill="#fccbcd"/>
<rect x="947.3" y="806.8" width="2.4" height="0.7" fill="#26a69a"/>
<rect x="950.3" y="806.1" width="2.4" height="1.4" fill="#26a69a"/>
<rect x="954.3" y="805.6" width="2.4" height="1.9" fill="#26a69a"/>
<rect x="958.3" y="805.7" width="2.4" height="1.8" fill="#b2dfdb"/>
<rect x="962.3" y="805.9" width="2.4" height="1.6" fill="#b2dfdb"/>
<rect x="966.3" y="806.2" width="2.4" height="1.3" fill="#b2dfdb"/>
<rect x="969.3" y="806.5" width="2.4" height="1" fill="#b2dfdb"/>
<rect x="973.3" y="807.3" width="2.4" height="0.6" fill="#b2dfdb"/>
<rect x="977.3" y="807.5" width="2.4" height="0.8" fill="#ef5350"/>
<rect x="981.3" y="807.5" width="2.4" height="2" fill="#ef5350"/>
<rect x="985.3" y="807.5" width="2.4" height="2.7" fill="#ef5350"/>
<rect x="988.3" y="807.5" width="2.4" height="3.8" fill="#ef5350"/>
<rect x="992.3" y="807.5" width="2.4" height="5" fill="#ef5350"/>
<rect x="996.3" y="807.5" width="2.4" height="7" fill="#ef5350"/>
<rect x="1000.3" y="807.5" width="2.4" height="6.9" fill="#fccbcd"/>
<rect x="1004.3" y="807.5" width="2.4" height="6.1" fill="#fccbcd"/>
<rect x="1007.3" y="807.5" width="2.4" height="5.8" fill="#fccbcd"/>
<rect x="1011.3" y="807.5" width="2.4" height="4.6" fill="#fccbcd"/>
<rect x="1015.3" y="807.5" width="2.4" height="3.8" fill="#fccbcd"/>
<rect x="1019.3" y="807.5" width="2.4" height="3.5" fill="#fccbcd"/>
<rect x="1023.3" y="807.5" width="2.4" height="3.1" fill="#fccbcd"/>
<rect x="1026.3" y="807.5" width="2.4" height="2.1" fill="#fccbcd"/>
<rect x="1030.3" y="807.5" width="2.4" height="1.8" fill="#fccbcd"/>
<rect x="1034.3" y="807.5" width="2.4" height="2.3" fill="#ef5350"/>
<rect x="1038.3" y="807.5" width="2.4" height="2.4" fill="#ef5350"/>
<rect x="1042.3" y="807.5" width="2.4" height="1.4" fill="#fccbcd"/>
<rect x="1045.3" y="807.5" width="2.4" height="0.8" fill="#fccbcd"/>
<rect x="1049.3" y="807.5" width="2.4" height="0.6" fill="#fccbcd"/>
<rect x="1053.3" y="807.3" width="2.4" height="0.6" fill="#26a69a"/>
<rect x="1057.3" y="807" width="2.4" height="0.6" fill="#26a69a"/>
<rect x="1061.3" y="807.2" width="2.4" height="0.6" fill="#b2dfdb"/>
<rect x="1064.3" y="806.8" width="2.4" height="0.7" fill="#26a69a"/>
<rect x="1068.3" y="806.2" width="2.4" height="1.3" fill="#26a69a"/>
<rect x="1072.3" y="805" width="2.4" height="2.5" fill="#26a69a"/>
<rect x="1076.3" y="804.1" width="2.4" height="3.4" fill="#26a69a"/>
<rect x="1080.3" y="802.7" width="2.4" height="4.8" fill="#26a69a"/>
<rect x="1083.3" y="801.5" width="2.4" height="6" fill="#26a69a"/>
<rect x="1087.3" y="800.4" width="2.4" height="7.1" fill="#26a69a"/>
<rect x="1091.3" y="799.4" width="2.4" height="8.1" fill="#26a69a"/>
<rect x="1095.3" y="798.6" width="2.4" height="8.9" fill="#26a69a"/>
<rect x="1099.3" y="798.2" width="2.4" height="9.3" fill="#26a69a"/>
<rect x="1102.3" y="800.6" width="2.4" height="6.9" fill="#b2dfdb"/>
<rect x="1106.3" y="802.6" width="2.4" height="4.9" fill="#b2dfdb"/>
<rect x="1110.3" y="804.4" width="2.4" height="3.1" fill="#b2dfdb"/>
<rect x="1114.3" y="806.2" width="2.4" height="1.3" fill="#b2dfdb"/>
<rect x="1118.3" y="807.5" width="2.4" height="0.6" fill="#ef5350"/>
<rect x="1121.3" y="807.5" width="2.4" height="1.6" fill="#ef5350"/>
<rect x="1125.3" y="807.5" width="2.4" height="0.8" fill="#fccbcd"/>
<line x1="10" y1="807.5" x2="1130" y2="807.5" stroke="#787b86" stroke-width="1" stroke-opacity="0.3" stroke-dasharray="6,5"/>
<line x1="1130" y1="807.5" x2="1450" y2="807.5" stroke="#787b86" stroke-width="1" stroke-opacity="0.6" stroke-dasharray="6,5"/>
<path d="M9.9,810.8C11.2,809.9 14.9,807.5 17.4,805.8C19.8,804.2 22.3,802.3 24.8,800.8C27.3,799.4 29.8,798.2 32.2,797.1C34.7,796.1 37.4,795.1 39.7,794.6C42,794.2 43.8,794.1 45.9,794.2C48,794.2 49.8,794.6 52.1,795.1C54.4,795.6 57,796.5 59.5,797.1C62,797.8 64.5,798.6 67,799.1C69.5,799.6 71.9,800 74.4,800.1C76.9,800.2 79.4,799.9 81.9,799.6C84.3,799.4 86.8,798.9 89.3,798.6C91.8,798.3 94.3,798.1 96.7,797.6C99.2,797.2 101.7,796.6 104.2,795.9C106.7,795.2 109.1,794.1 111.6,793.4C114.1,792.7 116.6,792 119.1,791.7C121.5,791.4 124,791.6 126.5,791.7C129,791.8 131.5,792 133.9,792.2C136.4,792.3 138.9,792.7 141.4,792.7C143.9,792.7 146.3,792.4 148.8,792.2C151.3,792 153.8,791.8 156.3,791.4C158.7,791.1 161.2,790.4 163.7,790.2C166.2,790 168.7,790.1 171.1,790.2C173.6,790.3 176.1,790.7 178.6,790.9C181.1,791.2 183.6,791.4 186,791.7C188.5,792 191,792.1 193.5,792.7C196,793.2 198.4,794.3 200.9,795.1C203.4,796 205.9,796.8 208.4,797.6C210.8,798.5 213.3,799.4 215.8,800.1C218.3,800.8 220.8,801.6 223.2,802.1C225.7,802.6 228.2,802.9 230.7,803.3C233.2,803.7 235.6,804.2 238.1,804.6C240.6,805 243.1,805.4 245.6,805.8C248,806.2 250.5,806.8 253,807C255.5,807.3 258,807.5 260.4,807.5C262.9,807.5 265.4,807.3 267.9,807C270.4,806.8 272.8,806.8 275.3,806.3C277.8,805.8 280.3,805.2 282.8,804.1C285.2,803 287.7,801.2 290.2,799.6C292.7,798 295.2,796.3 297.7,794.6C300.1,793 302.6,791.1 305.1,789.7C307.6,788.3 310.1,787.3 312.5,786.5C315,785.6 317.5,785.1 320,784.7C322.5,784.3 324.9,783.8 327.4,784C329.9,784.2 332.4,785.1 334.9,786C337.3,786.8 339.8,788.2 342.3,789.2C344.8,790.2 347.3,791.3 349.7,792.2C352.2,793.1 354.7,794 357.2,794.6C359.7,795.3 362.1,795.7 364.6,795.9C367.1,796.1 369.5,795.9 372.1,795.9C374.6,795.9 377.4,796.2 380,795.9C382.6,795.6 385,795 387.4,794.2C389.9,793.3 392.4,792 394.9,790.9C397.4,789.9 399.8,788.8 402.3,787.7C404.8,786.6 407.3,785.3 409.8,784.2C412.2,783.1 414.7,782 417.2,781C419.7,780.1 422.2,779.3 424.6,778.5C427.1,777.8 429.6,777 432.1,776.5C434.6,776 437,775.8 439.5,775.5C442,775.3 444.5,774.9 447,774.8C449.5,774.7 451.9,774.9 454.4,774.8C456.9,774.7 459.4,774.6 461.9,774.1C464.3,773.6 466.8,772.6 469.3,771.8C471.8,771 474.7,770 476.7,769.3C478.8,768.7 479.6,768.1 481.7,768.1C483.8,768.1 486.7,768.9 489.1,769.3C491.6,769.8 494.1,770.6 496.6,771.1C499.1,771.6 501.5,772 504,772.3C506.5,772.7 509,772.9 511.5,773.1C513.9,773.2 516.4,773 518.9,773.1C521.4,773.2 523.9,773.1 526.3,773.6C528.8,774.1 531.3,775.1 533.8,776C536.3,777 538.7,778.4 541.2,779.3C543.7,780.1 546.2,780.7 548.7,781C551.1,781.3 553.6,780.8 556.1,781C558.6,781.2 561.1,781.7 563.6,782.2C566,782.8 568.5,783.4 571,784.2C573.5,785.1 576,785.9 578.4,787.2C580.9,788.5 583.4,790.5 585.9,792.2C588.4,793.8 590.8,795.3 593.3,797.1C595.8,799 598.7,800.8 600.8,803.3C602.8,805.8 604.1,808.9 605.7,812C607.4,815.1 608.8,818.4 610.7,821.9C612.5,825.4 614.8,830.1 616.9,833.1C618.9,836.1 621,838.2 623.1,839.8C625.1,841.4 627.2,842 629.3,842.5C631.3,843.1 633.2,843.3 635.5,843C637.8,842.7 640.4,842 642.9,840.5C645.4,839.1 647.9,836.8 650.4,834.3C652.8,831.9 655.3,828.8 657.8,825.7C660.3,822.6 662.8,819 665.2,815.7C667.7,812.4 670.2,809.1 672.7,805.8C675.2,802.5 677.7,799 680.1,795.9C682.6,792.8 685.1,789.9 687.6,787.2C690.1,784.5 692.5,781.8 695,779.8C697.5,777.7 700,776.3 702.5,774.8C704.9,773.4 707.4,772.2 709.9,771.1C712.4,769.9 714.9,768.6 717.3,767.9C719.8,767.1 722.3,766.9 724.8,766.6C727.3,766.3 729.7,766 732.2,766.1C734.7,766.2 737.2,766.8 739.7,767.4C742.1,767.9 744.6,768.7 747.1,769.3C749.6,770 752.4,770.7 754.5,771.1C756.7,771.5 757.9,771.2 760,771.8C762.1,772.4 765,773.5 767.4,774.8C769.9,776.1 772.4,778.1 774.9,779.8C777.4,781.4 779.8,782.9 782.3,784.7C784.8,786.6 787.3,788.9 789.8,790.9C792.2,792.9 794.7,795 797.2,796.6C799.7,798.3 802.2,799.7 804.6,800.8C807.1,802 809.6,802.8 812.1,803.3C814.6,803.9 817,804.1 819.5,804.1C822,804.1 824.5,803.5 827,803.3C829.5,803.1 831.9,803.1 834.4,802.8C836.9,802.5 839.4,802.2 841.9,801.6C844.3,801 846.8,799.9 849.3,799.1C851.8,798.4 854.3,797.7 856.7,797.1C859.2,796.5 861.7,795.8 864.2,795.4C866.7,795 869.1,794.8 871.6,794.6C874.1,794.5 876.6,794.6 879.1,794.6C881.5,794.6 884,794.6 886.5,794.6C889,794.7 891.5,794.9 893.9,795.1C896.4,795.4 898.9,795.6 901.4,795.9C903.9,796.2 906.3,796.5 908.8,797.1C911.3,797.7 913.8,798.7 916.3,799.6C918.7,800.5 921.2,801.8 923.7,802.6C926.2,803.3 928.7,803.7 931.1,804.1C933.6,804.4 936.1,804.6 938.6,804.6C941.1,804.5 943.6,804.2 946,803.8C948.5,803.5 951,803 953.5,802.6C956,802.2 958.4,801.7 960.9,801.3C963.4,801 965.9,800.6 968.4,800.4C970.8,800.1 973.3,800 975.8,800.1C978.3,800.2 980.8,800.5 983.2,800.8C985.7,801.2 988.2,801.4 990.7,802.1C993.2,802.8 995.6,803.9 998.1,805.1C1000.6,806.2 1003.1,808 1005.6,809C1008,810.1 1010.5,810.8 1013,811.5C1015.5,812.2 1018,812.7 1020.4,813.3C1022.9,813.8 1025.4,814.4 1027.9,815C1030.4,815.5 1032.8,816.1 1035.3,816.5C1037.8,816.9 1040.3,817.3 1042.8,817.5C1045.2,817.6 1047.7,817.6 1050.2,817.5C1052.7,817.4 1055.2,817.3 1057.7,817C1060.1,816.7 1062.6,816.2 1065.1,815.7C1067.6,815.2 1070.1,814.8 1072.5,814C1075,813.2 1077.5,811.9 1080,810.8C1082.5,809.6 1084.9,808.4 1087.4,807C1089.9,805.7 1092.4,804.2 1094.9,802.8C1097.3,801.5 1099.8,800.1 1102.3,799.1C1104.8,798.2 1107.3,797.7 1109.7,797.1C1112.2,796.6 1114.9,796 1117.2,795.9C1119.5,795.8 1121.9,796.4 1123.4,796.6C1124.9,796.8 1125.9,797 1126.4,797.1" fill="none" stroke="#f0872a" stroke-width="1.15" stroke-linejoin="round" stroke-linecap="round" />
<path d="M9.9,803.3C10.7,802.7 13.2,800.6 14.9,799.6C16.5,798.7 18.2,798.5 19.8,797.6C21.5,796.8 23.2,795.6 24.8,794.6C26.5,793.7 27.9,792.5 29.8,791.7C31.6,790.8 34.1,789.8 36,789.7C37.8,789.6 39.3,790.2 40.9,790.9C42.6,791.7 44.2,793.2 45.9,794.2C47.5,795.1 49,795.7 50.8,796.6C52.7,797.5 55,798.6 57,799.6C59.1,800.6 61.2,802.3 63.3,802.6C65.3,802.9 67.2,802 69.5,801.6C71.7,801.2 74.4,801 76.9,800.4C79.4,799.7 81.9,798.2 84.3,797.6C86.8,797.1 89.3,797.5 91.8,797.1C94.3,796.7 96.9,796.2 99.2,795.1C101.5,794.1 103.4,792 105.4,790.9C107.5,789.8 109.6,788.9 111.6,788.4C113.7,788 116,788 117.8,788.4C119.7,788.9 120.9,790.3 122.8,790.9C124.6,791.5 126.7,791.8 129,792.2C131.3,792.5 133.9,792.8 136.4,792.9C138.9,793 141.4,793 143.9,792.7C146.3,792.3 148.8,791.3 151.3,790.9C153.8,790.5 156.5,790.6 158.7,790.2C161,789.8 162.9,788.4 164.9,788.4C167,788.4 168.9,789.5 171.1,790.2C173.4,790.9 176.1,792.1 178.6,792.7C181.1,793.2 183.6,793.1 186,793.4C188.5,793.7 191.4,793.8 193.5,794.6C195.5,795.5 196.4,797.3 198.4,798.4C200.5,799.5 203.4,800.4 205.9,801.3C208.4,802.3 210.8,803.5 213.3,804.1C215.8,804.6 218.7,804.6 220.8,804.6C222.8,804.6 224.1,803.7 225.7,804.1C227.4,804.4 228.6,806 230.7,806.6C232.7,807.1 235.6,807.4 238.1,807.5C240.6,807.7 243.1,807.2 245.6,807.5C248,807.9 250.5,809.6 253,809.5C255.5,809.4 258,807.7 260.4,807C262.9,806.4 265.4,806.3 267.9,805.8C270.4,805.3 273.1,804.9 275.3,804.1C277.6,803.2 279.5,802.4 281.5,800.8C283.6,799.3 285.7,796.9 287.7,794.6C289.8,792.4 291.9,789.1 293.9,787.2C296,785.3 297.9,784.4 300.1,783.5C302.4,782.5 305.1,782 307.6,781.5C310.1,781 312.7,780.3 315,780.3C317.3,780.2 319.1,780.5 321.2,781C323.3,781.5 325.3,782.2 327.4,783.5C329.5,784.7 331.5,786.9 333.6,788.4C335.7,790 337.5,791.3 339.8,792.7C342.1,794 344.8,795.3 347.3,796.4C349.7,797.5 352.2,799 354.7,799.1C357.2,799.2 359.7,797.7 362.1,797.1C364.6,796.5 367.3,795.6 369.6,795.4C371.9,795.2 374,795.6 375.8,795.9C377.5,796.2 378.3,797.3 380,797.1C381.7,796.9 384.1,795.9 386.2,794.6C388.3,793.4 390.1,791.3 392.4,789.7C394.7,788 397.4,786.5 399.8,784.7C402.3,783 404.8,780.6 407.3,779.3C409.8,777.9 412.5,777.5 414.7,776.8C417,776 418.9,775.5 420.9,774.8C423,774.1 425.3,772.8 427.1,772.3C429,771.8 430.2,771.5 432.1,771.8C433.9,772.2 436.2,773.7 438.3,774.3C440.4,774.9 442.2,775.2 444.5,775.3C446.8,775.4 449.5,775.1 451.9,774.8C454.4,774.5 457.1,774.6 459.4,773.6C461.6,772.5 463.5,770 465.6,768.6C467.6,767.2 469.9,766.3 471.8,765.4C473.6,764.5 475.1,763.1 476.7,763.1C478.4,763.1 480,764.3 481.7,765.4C483.4,766.5 484.8,768.7 486.7,769.8C488.5,771 490.8,771.8 492.9,772.3C494.9,772.8 497,772.4 499.1,772.8C501.1,773.2 503.4,774.8 505.3,774.8C507.1,774.8 508.6,772.5 510.2,772.8C511.9,773.2 513.3,776.7 515.2,776.8C517,776.9 519.5,774.2 521.4,773.6C523.2,772.9 524.7,772.4 526.3,773.1C528,773.7 529.7,775.8 531.3,777.3C533,778.8 534.6,780.8 536.3,782.2C537.9,783.7 539.4,785.4 541.2,786C543.1,786.5 545.4,786.2 547.4,785.5C549.5,784.8 551.8,782.4 553.6,781.7C555.5,781.1 556.9,781.3 558.6,781.7C560.2,782.2 561.9,783.3 563.6,784.2C565.2,785.1 566.7,786.5 568.5,787.2C570.4,787.9 572.6,787.2 574.7,788.4C576.8,789.7 578.8,792.6 580.9,794.6C583,796.7 585.3,799.4 587.1,800.8C589,802.3 590.4,801.9 592.1,803.3C593.7,804.8 595.4,806 597,809.5C598.7,813 600.3,819 602,824.4C603.7,829.8 605.1,836.8 607,841.8C608.8,846.7 610.9,851.4 613.2,854.2C615.4,856.9 618.3,858.6 620.6,858.4C622.9,858.2 624.7,855.1 626.8,852.9C628.9,850.8 630.9,847.9 633,845.5C635.1,843.1 637.1,841.9 639.2,838.8C641.3,835.7 643.3,830.7 645.4,826.9C647.5,823 649.5,819.2 651.6,815.7C653.7,812.2 655.5,809.1 657.8,805.8C660.1,802.5 662.8,799.6 665.2,795.9C667.7,792.2 670.2,786.8 672.7,783.5C675.2,780.2 677.7,778.1 680.1,776C682.6,774 685.1,772.5 687.6,771.1C690.1,769.6 692.5,768.2 695,767.4C697.5,766.5 700,766.7 702.5,766.1C704.9,765.5 707.6,764.4 709.9,763.6C712.2,762.9 714.2,761.8 716.1,761.7C718,761.5 719.4,762 721.1,762.9C722.7,763.8 724.2,766.2 726,766.9C727.9,767.5 729.9,766.4 732.2,766.9C734.5,767.4 737.2,768.7 739.7,769.8C742.1,771 744.6,772.9 747.1,773.6C749.6,774.3 752.4,774 754.5,774.1C756.7,774.1 758.3,773.8 760,774.1C761.7,774.3 763.1,774.4 765,775.5C766.8,776.7 769.1,779.1 771.2,781C773.2,782.9 775.3,785.1 777.4,787.2C779.4,789.3 781.5,791.3 783.6,793.4C785.6,795.5 787.7,797.4 789.8,799.6C791.8,801.8 794.1,805 796,806.6C797.8,808.1 799.3,808.5 800.9,809C802.6,809.5 804,809.4 805.9,809.5C807.7,809.6 810.2,810.2 812.1,809.5C813.9,808.9 815.4,806.8 817,805.8C818.7,804.8 820.2,803.7 822,803.3C823.9,802.9 826.1,803.6 828.2,803.3C830.3,803 832.3,802 834.4,801.6C836.5,801.2 838.5,801.8 840.6,800.8C842.7,799.9 844.7,797.5 846.8,795.9C848.9,794.3 851.2,792.2 853,791.4C854.9,790.6 856.3,790.8 858,790.9C859.6,791.1 861.1,791.6 862.9,792.2C864.8,792.7 867.1,793.9 869.1,794.2C871.2,794.4 873.3,793.8 875.3,793.9C877.4,794 879.5,794.4 881.5,794.6C883.6,794.9 885.7,795.2 887.7,795.4C889.8,795.6 892.1,795.5 893.9,795.9C895.8,796.3 897,797.5 898.9,797.9C900.8,798.3 903.2,797.9 905.1,798.4C907,798.9 908.4,799.7 910.1,800.8C911.7,802 913.4,803.9 915,805.1C916.7,806.2 918.3,807 920,807.5C921.6,808.1 923.1,808.5 924.9,808.3C926.8,808.1 929.1,807 931.1,806.6C933.2,806.1 935.3,806.1 937.3,805.8C939.4,805.5 941.5,805.2 943.6,804.6C945.6,803.9 947.7,802.8 949.8,802.1C951.8,801.4 953.9,800.8 956,800.4C958,799.9 959.9,799.8 962.2,799.6C964.4,799.4 967.3,799 969.6,799.1C971.9,799.2 973.7,799.5 975.8,800.1C977.9,800.7 979.9,801.8 982,802.6C984.1,803.3 986.3,803.7 988.2,804.6C990.1,805.4 991.5,806.3 993.2,807.5C994.8,808.8 996.5,810.9 998.1,812C999.8,813.1 1001.2,813.4 1003.1,814C1004.9,814.6 1007.2,815.4 1009.3,815.7C1011.3,816 1013.2,815.5 1015.5,815.7C1017.8,815.9 1020.4,816.8 1022.9,817C1025.4,817.2 1027.9,816.6 1030.4,817C1032.8,817.4 1035.5,819.2 1037.8,819.5C1040.1,819.7 1041.7,819 1044,818.7C1046.3,818.4 1049.2,817.8 1051.4,817.5C1053.7,817.1 1055.6,816.8 1057.7,816.5C1059.7,816.2 1061.8,816.3 1063.9,815.7C1065.9,815.2 1068,814.3 1070.1,813.3C1072.1,812.2 1074.2,811 1076.3,809.5C1078.3,808.1 1080.4,806.2 1082.5,804.6C1084.5,802.9 1086.6,801.3 1088.7,799.6C1090.7,798 1093,796 1094.9,794.6C1096.7,793.3 1098,791.8 1099.8,791.4C1101.7,791.1 1104,792.2 1106,792.7C1108.1,793.1 1110.2,793.6 1112.2,794.2C1114.3,794.7 1116.6,795.2 1118.4,795.9C1120.3,796.6 1122.1,798 1123.4,798.4C1124.7,798.7 1125.9,798 1126.4,797.9" fill="none" stroke="#2f62e8" stroke-width="1.15" stroke-linejoin="round" stroke-linecap="round" />
<circle cx="1126.4" cy="797.8" r="2" fill="none" stroke="#b8bcc8" stroke-width="1"/>
</g>
<rect x="1450.5" y="27.5" width="71" height="841" fill="#ffffff"/>
<line x1="10" y1="581.5" x2="1522" y2="581.5" stroke="#e0e3eb" stroke-width="1"/>
<line x1="10" y1="749.5" x2="1522" y2="749.5" stroke="#e0e3eb" stroke-width="1"/>
<rect x="10.5" y="27.5" width="1511" height="869" fill="none" stroke="#e8eaef" stroke-width="1"/>
<text x="1459.5" y="41" font-size="12" fill="#131722" textLength="51.6" lengthAdjust="spacingAndGlyphs">26,000.00</text>
<text x="1459.5" y="93.9" font-size="12" fill="#131722" textLength="51.6" lengthAdjust="spacingAndGlyphs">25,000.00</text>
<text x="1459.5" y="241.8" font-size="12" fill="#131722" textLength="51.6" lengthAdjust="spacingAndGlyphs">22,400.00</text>
<text x="1459.5" y="290.8" font-size="12" fill="#131722" textLength="51.6" lengthAdjust="spacingAndGlyphs">21,600.00</text>
<text x="1459.5" y="322.3" font-size="12" fill="#131722" textLength="51.6" lengthAdjust="spacingAndGlyphs">21,100.00</text>
<text x="1459.5" y="354.6" font-size="12" fill="#131722" textLength="51.6" lengthAdjust="spacingAndGlyphs">20,600.00</text>
<text x="1459.5" y="394.4" font-size="12" fill="#131722" textLength="51.6" lengthAdjust="spacingAndGlyphs">20,000.00</text>
<text x="1459.5" y="435.5" font-size="12" fill="#131722" textLength="51.6" lengthAdjust="spacingAndGlyphs">19,400.00</text>
<text x="1459.5" y="477.8" font-size="12" fill="#131722" textLength="51.6" lengthAdjust="spacingAndGlyphs">18,800.00</text>
<text x="1459.5" y="514.1" font-size="12" fill="#131722" textLength="51.6" lengthAdjust="spacingAndGlyphs">18,300.00</text>
<text x="1459.5" y="547.6" font-size="12" fill="#131722" textLength="51.6" lengthAdjust="spacingAndGlyphs">17,850.00</text>
<text x="1459.5" y="578.1" font-size="12" fill="#131722" textLength="51.6" lengthAdjust="spacingAndGlyphs">17,450.00</text>
<text x="1459.5" y="611.9" font-size="12" fill="#131722" textLength="29" lengthAdjust="spacingAndGlyphs">80.00</text>
<text x="1459.5" y="693.8" font-size="12" fill="#131722" textLength="29" lengthAdjust="spacingAndGlyphs">40.00</text>
<text x="1459.5" y="735.8" font-size="12" fill="#131722" textLength="29" lengthAdjust="spacingAndGlyphs">20.00</text>
<text x="1459.5" y="843.9" font-size="12" fill="#131722" textLength="42" lengthAdjust="spacingAndGlyphs">−400.00</text>
<rect x="1451" y="107.3" width="66" height="17.3" rx="1.8" fill="#f23645"/>
<text x="1459.5" y="119.3" font-size="12" fill="#ffffff" font-weight="bold" textLength="52.5" lengthAdjust="spacingAndGlyphs">24,300.38</text>
<rect x="1451" y="124.4" width="66" height="17" rx="1.8" fill="#089981"/>
<text x="1459.5" y="136.2" font-size="12" fill="#ffffff" font-weight="bold" textLength="52.5" lengthAdjust="spacingAndGlyphs">24,258.80</text>
<rect x="1451" y="141.2" width="66" height="17" rx="1.8" fill="#2962ff"/>
<text x="1459.5" y="153" font-size="12" fill="#ffffff" font-weight="bold" textLength="52.5" lengthAdjust="spacingAndGlyphs">24,123.77</text>
<rect x="1451" y="158" width="66" height="17" rx="1.8" fill="#089981"/>
<text x="1459.5" y="169.8" font-size="12" fill="#ffffff" font-weight="bold" textLength="52.5" lengthAdjust="spacingAndGlyphs">23,996.67</text>
<rect x="1451" y="187" width="66" height="16.8" rx="1.8" fill="#f57c00"/>
<text x="1459.5" y="198.7" font-size="12" fill="#ffffff" font-weight="bold" textLength="52.5" lengthAdjust="spacingAndGlyphs">23,143.42</text>
<rect x="1451" y="628.2" width="42.7" height="16.6" rx="1.8" fill="#f7525f"/>
<text x="1459.5" y="639.8" font-size="12" fill="#ffffff" font-weight="bold" textLength="29.5" lengthAdjust="spacingAndGlyphs">56.82</text>
<rect x="1451" y="644.6" width="42.7" height="17.3" rx="1.8" fill="#9c27b0"/>
<text x="1459.5" y="656.6" font-size="12" fill="#ffffff" font-weight="bold" textLength="29.5" lengthAdjust="spacingAndGlyphs">53.70</text>
<rect x="1451" y="661.7" width="42.7" height="16.6" rx="1.8" fill="#2962ff"/>
<text x="1459.5" y="673.3" font-size="12" fill="#ffffff" font-weight="bold" textLength="29.5" lengthAdjust="spacingAndGlyphs">49.60</text>
<rect x="1451" y="767.2" width="48.7" height="16.8" rx="1.8" fill="#ff6d00"/>
<text x="1459.5" y="778.9" font-size="12" fill="#ffffff" font-weight="bold" textLength="33.5" lengthAdjust="spacingAndGlyphs">114.71</text>
<rect x="1451" y="784" width="42.7" height="16.8" rx="1.8" fill="#2962ff"/>
<text x="1459.5" y="795.7" font-size="12" fill="#ffffff" font-weight="bold" textLength="29" lengthAdjust="spacingAndGlyphs">92.17</text>
<rect x="1451" y="800.8" width="48.7" height="16.9" rx="1.8" fill="#ffcdd2"/>
<text x="1459.5" y="812.6" font-size="12" fill="#131722" textLength="34.5" lengthAdjust="spacingAndGlyphs">−22.55</text>
<text x="36" y="887.3" font-size="12" fill="#131722" textLength="20" lengthAdjust="spacingAndGlyphs" text-anchor="middle">Sep</text>
<text x="116" y="887.3" font-size="12" fill="#131722" textLength="19" lengthAdjust="spacingAndGlyphs" text-anchor="middle">Oct</text>
<text x="203" y="887.3" font-size="12" fill="#131722" textLength="21" lengthAdjust="spacingAndGlyphs" text-anchor="middle">Nov</text>
<text x="283" y="887.3" font-size="12" fill="#131722" textLength="21" lengthAdjust="spacingAndGlyphs" text-anchor="middle">Dec</text>
<text x="352" y="887.3" font-size="12" fill="#131722" font-weight="bold" textLength="29" lengthAdjust="spacingAndGlyphs" text-anchor="middle">2025</text>
<text x="434" y="887.3" font-size="12" fill="#131722" textLength="20" lengthAdjust="spacingAndGlyphs" text-anchor="middle">Feb</text>
<text x="511" y="887.3" font-size="12" fill="#131722" textLength="20" lengthAdjust="spacingAndGlyphs" text-anchor="middle">Mar</text>
<text x="591" y="887.3" font-size="12" fill="#131722" textLength="19" lengthAdjust="spacingAndGlyphs" text-anchor="middle">Apr</text>
<text x="667" y="887.3" font-size="12" fill="#131722" textLength="22" lengthAdjust="spacingAndGlyphs" text-anchor="middle">May</text>
<text x="746" y="887.3" font-size="12" fill="#131722" textLength="19" lengthAdjust="spacingAndGlyphs" text-anchor="middle">Jun</text>
<text x="826" y="887.3" font-size="12" fill="#131722" textLength="15" lengthAdjust="spacingAndGlyphs" text-anchor="middle">Jul</text>
<text x="914" y="887.3" font-size="12" fill="#131722" textLength="21" lengthAdjust="spacingAndGlyphs" text-anchor="middle">Aug</text>
<text x="993" y="887.3" font-size="12" fill="#131722" textLength="20" lengthAdjust="spacingAndGlyphs" text-anchor="middle">Sep</text>
<text x="1077" y="887.3" font-size="12" fill="#131722" textLength="19" lengthAdjust="spacingAndGlyphs" text-anchor="middle">Oct</text>
<text x="1164" y="887.3" font-size="12" fill="#131722" textLength="21" lengthAdjust="spacingAndGlyphs" text-anchor="middle">Nov</text>
<text x="1240" y="887.3" font-size="12" fill="#131722" textLength="21" lengthAdjust="spacingAndGlyphs" text-anchor="middle">Dec</text>
<text x="1313" y="887.3" font-size="12" fill="#131722" font-weight="bold" textLength="29" lengthAdjust="spacingAndGlyphs" text-anchor="middle">2026</text>
<text x="1396" y="887.3" font-size="12" fill="#131722" textLength="20" lengthAdjust="spacingAndGlyphs" text-anchor="middle">Feb</text>
<text x="10" y="18.7" font-size="12" fill="#131722" textLength="367" lengthAdjust="spacingAndGlyphs">B_R_A_D_ created with TradingView.com, Oct 20, 2025 21:57 UTC+2</text>
<text x="18.5" y="46.1" font-size="12" fill="#131722" textLength="116.5" lengthAdjust="spacingAndGlyphs">DAX Index · 1D · XETR</text>
<text x="143" y="46.1" font-size="12" fill="#131722" textLength="7.5" lengthAdjust="spacingAndGlyphs">O</text>
<text x="151.3" y="46.1" font-size="12" fill="#089981" textLength="52" lengthAdjust="spacingAndGlyphs">24,035.19</text>
<text x="211.5" y="46.1" font-size="12" fill="#131722" textLength="7.3" lengthAdjust="spacingAndGlyphs">H</text>
<text x="219.3" y="46.1" font-size="12" fill="#089981" textLength="52.5" lengthAdjust="spacingAndGlyphs">24,296.39</text>
<text x="280" y="46.1" font-size="12" fill="#131722" textLength="5.3" lengthAdjust="spacingAndGlyphs">L</text>
<text x="285.8" y="46.1" font-size="12" fill="#089981" textLength="52" lengthAdjust="spacingAndGlyphs">24,026.59</text>
<text x="346" y="46.1" font-size="12" fill="#131722" textLength="6.3" lengthAdjust="spacingAndGlyphs">C</text>
<text x="352.8" y="46.1" font-size="12" fill="#089981" textLength="52" lengthAdjust="spacingAndGlyphs">24,258.80</text>
<text x="411" y="46.1" font-size="12" fill="#089981" textLength="93" lengthAdjust="spacingAndGlyphs">+427.81 (+1.80%)</text>
<text x="18.5" y="63.6" font-size="12" fill="#131722" textLength="620.5" lengthAdjust="spacingAndGlyphs">SMAs (10, close, 20, close, 30, close, 50, close, 90, close, 200, close, 300, close, 400, close, 500, close, 600, close)</text>
<text x="647.5" y="63.6" font-size="12" fill="#e24a5c" textLength="52" lengthAdjust="spacingAndGlyphs">24,300.38</text>
<text x="707" y="63.6" font-size="12" fill="#4a72d8" textLength="52.5" lengthAdjust="spacingAndGlyphs">24,123.77</text>
<text x="767" y="63.6" font-size="12" fill="#1a9e86" textLength="52.5" lengthAdjust="spacingAndGlyphs">23,996.67</text>
<text x="827" y="63.6" font-size="12" fill="#ea8f2e" textLength="52.5" lengthAdjust="spacingAndGlyphs">23,143.42</text>
<text x="18" y="601.3" font-size="12" fill="#131722" textLength="210.3" lengthAdjust="spacingAndGlyphs">RSI (Wilder, 14, close, SMA, 40, SMA, 9)</text>
<text x="237" y="601.3" font-size="12" fill="#3f6fd8" textLength="29" lengthAdjust="spacingAndGlyphs">49.60</text>
<text x="273.7" y="601.3" font-size="12" fill="#f0524f" textLength="29" lengthAdjust="spacingAndGlyphs">56.82</text>
<text x="310.6" y="601.3" font-size="12" fill="#9c27b0" textLength="29" lengthAdjust="spacingAndGlyphs">53.70</text>
<text x="18" y="769.7" font-size="12" fill="#131722" textLength="111" lengthAdjust="spacingAndGlyphs">MACD (12, 26, close)</text>
<text x="137.2" y="769.7" font-size="12" fill="#f9c9cf" textLength="34" lengthAdjust="spacingAndGlyphs">−22.55</text>
<text x="179.8" y="769.7" font-size="12" fill="#3f6fd8" textLength="28.6" lengthAdjust="spacingAndGlyphs">92.17</text>
<text x="217.8" y="769.7" font-size="12" fill="#ea8f2e" textLength="33.2" lengthAdjust="spacingAndGlyphs">114.71</text>
<g fill="#131722"><path d="M12.1,919.3 H25 V934 H18 V926.5 H12.1 Z"/><circle cx="28.4" cy="922.3" r="2.6"/><path d="M34.6,919.3 H41.6 L36.0,934 H29.0 Z"/></g>
<text x="49.3" y="934.1" font-size="20.4" fill="#131722" font-weight="bold" textLength="120" lengthAdjust="spacingAndGlyphs">TradingView</text>
</svg></body></html>
